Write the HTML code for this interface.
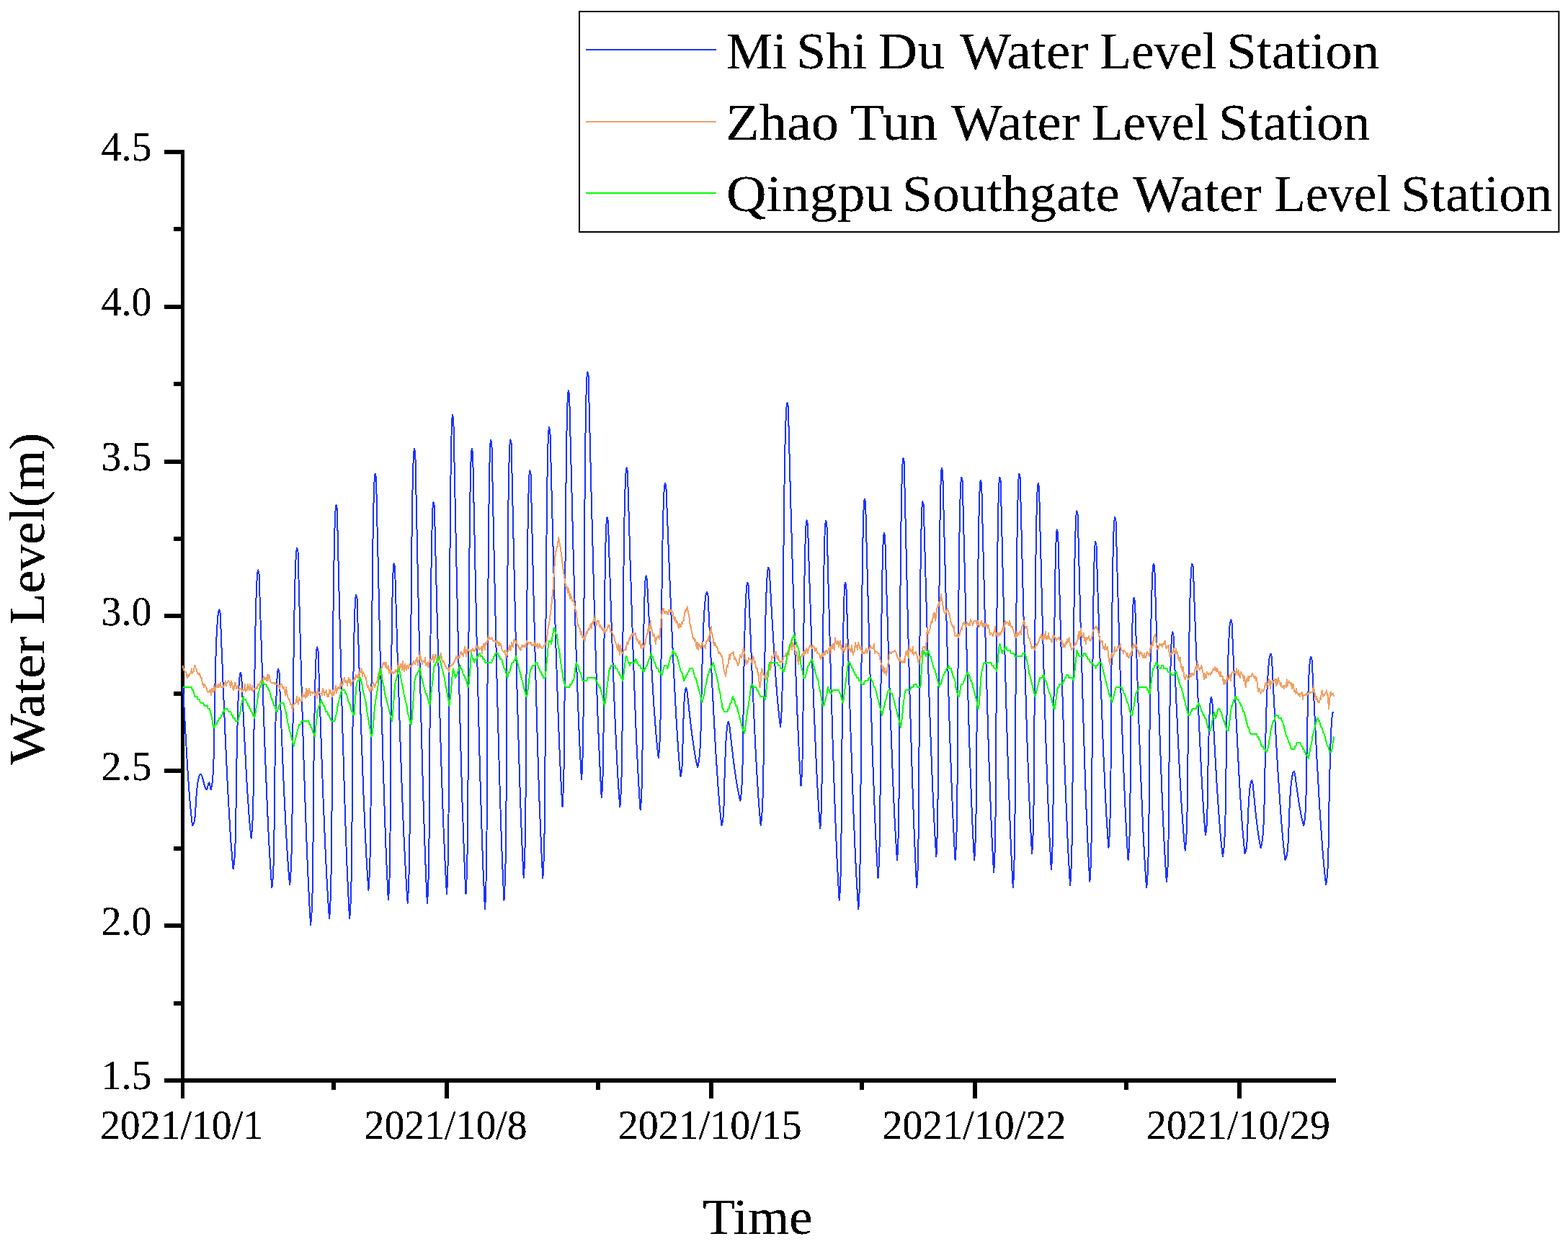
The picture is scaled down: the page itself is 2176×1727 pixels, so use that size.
<!DOCTYPE html>
<html lang="en"><head><meta charset="utf-8"><title>Water Level</title>
<style>html,body{margin:0;padding:0;background:#fff}svg{display:block}text{font-family:"Liberation Serif","DejaVu Serif",serif;fill:#000}</style></head><body>
<svg width="2176" height="1727" viewBox="0 0 2176 1727">
<defs><filter id="crisp" x="-5%" y="-5%" width="110%" height="110%" color-interpolation-filters="sRGB"><feComponentTransfer><feFuncA type="discrete" tableValues="0 0 1 1 1"/></feComponentTransfer></filter></defs>
<rect x="0" y="0" width="2176" height="1727" fill="#fff"/>
<g fill="#000" shape-rendering="crispEdges">
<rect x="251" y="208" width="5" height="1317"/>
<rect x="228" y="1497" width="1626" height="6"/>
<rect x="228" y="208" width="24" height="6"/>
<rect x="228" y="423" width="24" height="6"/>
<rect x="228" y="638" width="24" height="6"/>
<rect x="228" y="852" width="24" height="6"/>
<rect x="228" y="1067" width="24" height="6"/>
<rect x="228" y="1282" width="24" height="6"/>
<rect x="241" y="315" width="11" height="6"/>
<rect x="241" y="530" width="11" height="6"/>
<rect x="241" y="745" width="11" height="6"/>
<rect x="241" y="960" width="11" height="6"/>
<rect x="241" y="1175" width="11" height="6"/>
<rect x="241" y="1390" width="11" height="6"/>
<rect x="617" y="1500" width="6" height="25"/>
<rect x="984" y="1500" width="6" height="25"/>
<rect x="1350" y="1500" width="6" height="25"/>
<rect x="1717" y="1500" width="6" height="25"/>
<rect x="460" y="1500" width="6" height="13"/>
<rect x="827" y="1500" width="6" height="13"/>
<rect x="1193" y="1500" width="6" height="13"/>
<rect x="1560" y="1500" width="6" height="13"/>
</g>
<g fill="none" stroke-width="2" stroke-linejoin="round" stroke-linecap="butt" shape-rendering="crispEdges">
<path stroke="#1A33FF" d="M254.0,953.0 L254.5,962.5 L255.0,972.1 L255.5,981.5 L256.0,991.0 L256.5,1000.3 L257.0,1009.5 L257.5,1018.6 L258.0,1027.6 L258.5,1036.4 L259.0,1045.0 L259.5,1053.4 L260.0,1061.6 L260.5,1069.5 L261.0,1077.3 L261.5,1084.7 L262.0,1091.9 L262.5,1098.8 L263.0,1105.3 L263.5,1111.6 L264.0,1117.5 L264.5,1123.2 L265.0,1128.4 L265.5,1133.4 L266.0,1138.0 L266.5,1142.2 L267.0,1146.1 L267.5,1145.5 L268.0,1144.6 L268.6,1143.6 L269.1,1142.2 L269.6,1140.4 L270.1,1137.8 L270.6,1133.8 L271.1,1128.3 L271.7,1118.2 L272.2,1109.3 L272.7,1102.5 L273.2,1096.8 L273.7,1091.8 L274.3,1087.5 L274.8,1084.3 L275.3,1081.7 L275.8,1079.6 L276.3,1077.8 L276.8,1076.3 L277.4,1075.6 L277.9,1075.1 L278.4,1074.9 L278.9,1075.1 L279.4,1075.7 L279.9,1076.7 L280.4,1078.0 L281.0,1079.6 L281.5,1081.4 L282.0,1083.4 L282.5,1085.5 L283.0,1087.5 L283.5,1089.5 L284.0,1091.3 L284.6,1092.9 L285.1,1094.2 L285.6,1095.2 L286.1,1095.8 L286.6,1096.0 L287.1,1095.5 L287.7,1094.2 L288.2,1092.3 L288.7,1090.2 L289.2,1088.3 L289.8,1087.0 L290.3,1086.5 L290.8,1087.4 L291.3,1089.8 L291.9,1092.7 L292.4,1095.1 L292.9,1096.0 L293.4,1094.0 L293.9,1091.1 L294.4,1087.6 L294.9,1083.3 L295.4,1077.5 L295.9,1069.7 L296.4,1057.8 L296.9,1041.1 L297.4,1014.7 L297.9,978.8 L298.4,954.1 L298.9,933.3 L299.4,915.3 L299.9,899.4 L300.4,886.4 L300.9,876.4 L301.4,868.2 L301.9,861.5 L302.4,855.5 L302.9,851.0 L303.4,848.7 L303.9,847.1 L304.4,846.5 L305.7,851.5 L306.2,864.5 L306.7,877.5 L307.2,890.5 L307.7,903.5 L308.3,916.3 L308.8,929.1 L309.3,941.8 L309.8,954.4 L310.3,966.9 L310.8,979.2 L311.3,991.4 L311.8,1003.4 L312.3,1015.2 L312.9,1026.8 L313.4,1038.2 L313.9,1049.4 L314.4,1060.3 L314.9,1071.0 L315.4,1081.5 L315.9,1091.6 L316.4,1101.5 L317.0,1111.1 L317.5,1120.4 L318.0,1129.4 L318.5,1138.1 L319.0,1146.5 L319.5,1154.5 L320.0,1162.2 L320.5,1169.6 L321.0,1176.6 L321.6,1183.3 L322.1,1189.6 L322.6,1195.5 L323.1,1201.2 L323.6,1206.4 L324.1,1203.8 L324.6,1200.0 L325.1,1195.3 L325.7,1189.0 L326.2,1180.2 L326.7,1166.2 L327.2,1145.4 L327.7,1108.8 L328.2,1068.4 L328.8,1039.6 L329.3,1015.7 L329.8,995.0 L330.3,978.2 L330.8,965.7 L331.3,955.7 L331.8,947.7 L332.4,940.9 L332.9,937.1 L333.4,934.9 L333.9,934.0 L335.2,939.0 L335.7,950.1 L336.2,961.2 L336.7,972.2 L337.3,983.2 L337.8,994.1 L338.3,1004.8 L338.8,1015.4 L339.3,1025.8 L339.8,1036.1 L340.4,1046.1 L340.9,1055.9 L341.4,1065.4 L341.9,1074.7 L342.4,1083.7 L342.9,1092.3 L343.4,1100.7 L344.0,1108.7 L344.5,1116.3 L345.0,1123.6 L345.5,1130.6 L346.0,1137.1 L346.5,1143.2 L347.1,1149.0 L347.6,1154.3 L348.1,1159.3 L348.6,1163.8 L349.1,1160.0 L349.6,1154.4 L350.1,1147.4 L350.6,1137.8 L351.1,1123.8 L351.6,1100.9 L352.1,1067.4 L352.6,1002.5 L353.1,955.5 L353.7,917.9 L354.2,886.2 L354.7,859.5 L355.2,839.7 L355.7,824.4 L356.2,812.4 L356.7,802.0 L357.2,796.0 L357.7,792.8 L358.2,791.4 L359.5,796.4 L360.0,812.4 L360.5,828.4 L361.0,844.3 L361.5,860.2 L362.0,876.0 L362.6,891.7 L363.1,907.3 L363.6,922.7 L364.1,938.0 L364.6,953.1 L365.1,968.1 L365.6,982.8 L366.1,997.3 L366.6,1011.5 L367.1,1025.5 L367.6,1039.3 L368.1,1052.7 L368.7,1065.8 L369.2,1078.7 L369.7,1091.1 L370.2,1103.3 L370.7,1115.1 L371.2,1126.5 L371.7,1137.5 L372.2,1148.2 L372.7,1158.5 L373.2,1168.3 L373.7,1177.8 L374.2,1186.8 L374.8,1195.4 L375.3,1203.6 L375.8,1211.4 L376.3,1218.7 L376.8,1225.6 L377.3,1232.0 L377.8,1228.5 L378.3,1223.1 L378.9,1216.2 L379.4,1206.1 L379.9,1189.5 L380.4,1162.5 L381.0,1110.2 L381.5,1064.5 L382.0,1030.3 L382.5,1002.0 L383.1,979.1 L383.6,962.8 L384.1,950.4 L384.6,940.4 L385.2,933.5 L385.7,930.4 L386.2,929.0 L387.5,934.0 L388.0,947.0 L388.5,960.0 L389.0,973.0 L389.5,985.9 L390.0,998.7 L390.5,1011.4 L391.0,1024.0 L391.5,1036.3 L392.0,1048.6 L392.5,1060.6 L393.0,1072.3 L393.5,1083.9 L394.0,1095.2 L394.5,1106.2 L395.1,1116.9 L395.6,1127.3 L396.1,1137.3 L396.6,1147.1 L397.1,1156.4 L397.6,1165.4 L398.1,1174.0 L398.6,1182.2 L399.1,1190.1 L399.6,1197.5 L400.1,1204.5 L400.6,1211.0 L401.1,1217.2 L401.6,1222.9 L402.1,1228.2 L402.6,1223.8 L403.1,1217.2 L403.6,1209.1 L404.1,1198.3 L404.6,1183.2 L405.1,1159.3 L405.6,1123.6 L406.1,1060.8 L406.6,991.6 L407.1,942.2 L407.7,901.2 L408.2,865.7 L408.7,836.8 L409.2,815.4 L409.7,798.4 L410.2,784.6 L410.7,772.8 L411.2,766.4 L411.7,762.7 L412.2,761.1 L413.5,766.1 L414.0,785.1 L414.5,804.1 L415.0,823.0 L415.5,841.9 L416.0,860.7 L416.5,879.3 L417.0,897.8 L417.5,916.2 L418.0,934.4 L418.5,952.3 L419.0,970.1 L419.5,987.6 L420.0,1004.8 L420.5,1021.7 L421.0,1038.4 L421.5,1054.7 L422.0,1070.6 L422.6,1086.3 L423.1,1101.5 L423.6,1116.3 L424.1,1130.8 L424.6,1144.8 L425.1,1158.3 L425.6,1171.5 L426.1,1184.1 L426.6,1196.3 L427.1,1208.0 L427.6,1219.3 L428.1,1230.0 L428.6,1240.2 L429.1,1250.0 L429.6,1259.2 L430.1,1267.9 L430.6,1276.0 L431.1,1283.7 L431.6,1279.5 L432.1,1273.3 L432.6,1265.3 L433.1,1254.0 L433.6,1236.8 L434.1,1208.4 L434.6,1161.4 L435.1,1093.6 L435.6,1047.8 L436.2,1010.5 L436.7,978.8 L437.2,954.5 L437.7,936.5 L438.2,922.7 L438.7,911.0 L439.2,903.6 L439.7,900.0 L440.2,898.4 L441.5,903.4 L442.0,918.8 L442.5,934.2 L443.0,949.5 L443.5,964.8 L444.0,979.9 L444.5,995.0 L445.0,1009.9 L445.5,1024.6 L446.0,1039.1 L446.5,1053.5 L447.0,1067.6 L447.5,1081.4 L448.0,1095.0 L448.5,1108.3 L449.0,1121.3 L449.6,1133.9 L450.1,1146.2 L450.6,1158.1 L451.1,1169.7 L451.6,1180.9 L452.1,1191.6 L452.6,1202.0 L453.1,1211.9 L453.6,1221.4 L454.1,1230.4 L454.6,1239.0 L455.1,1247.1 L455.6,1254.8 L456.1,1262.0 L456.6,1268.7 L457.1,1274.9 L457.6,1268.7 L458.1,1259.4 L458.7,1247.5 L459.2,1230.7 L459.7,1205.0 L460.2,1162.7 L460.8,1092.8 L461.3,991.7 L461.8,923.5 L462.3,868.0 L462.8,820.8 L463.4,784.6 L463.9,757.8 L464.4,737.2 L464.9,719.7 L465.5,708.7 L466.0,703.3 L466.5,701.0 L467.8,706.0 L468.3,727.5 L468.8,749.0 L469.3,770.4 L469.8,791.7 L470.3,813.0 L470.9,834.0 L471.4,855.0 L471.9,875.7 L472.4,896.2 L472.9,916.5 L473.4,936.4 L473.9,956.1 L474.4,975.5 L474.9,994.5 L475.4,1013.2 L475.9,1031.5 L476.5,1049.4 L477.0,1066.8 L477.5,1083.8 L478.0,1100.3 L478.5,1116.4 L479.0,1131.9 L479.5,1146.9 L480.0,1161.4 L480.5,1175.4 L481.0,1188.8 L481.5,1201.6 L482.0,1213.8 L482.6,1225.5 L483.1,1236.6 L483.6,1247.1 L484.1,1257.0 L484.6,1266.2 L485.1,1274.9 L485.6,1270.0 L486.1,1262.7 L486.6,1253.5 L487.1,1240.3 L487.6,1220.2 L488.1,1187.0 L488.6,1132.3 L489.1,1053.2 L489.6,999.7 L490.2,956.3 L490.7,919.3 L491.2,891.0 L491.7,870.0 L492.2,853.8 L492.7,840.2 L493.2,831.5 L493.7,827.3 L494.2,825.5 L495.5,830.5 L496.0,847.3 L496.5,864.1 L497.0,880.8 L497.6,897.4 L498.1,914.0 L498.6,930.4 L499.1,946.6 L499.6,962.7 L500.1,978.5 L500.6,994.2 L501.1,1009.6 L501.7,1024.7 L502.2,1039.5 L502.7,1054.0 L503.2,1068.1 L503.7,1081.9 L504.2,1095.3 L504.7,1108.3 L505.2,1121.0 L505.8,1133.1 L506.3,1144.9 L506.8,1156.2 L507.3,1167.0 L507.8,1177.3 L508.3,1187.2 L508.8,1196.6 L509.3,1205.4 L509.9,1213.8 L510.4,1221.6 L510.9,1228.9 L511.4,1235.7 L511.9,1229.5 L512.4,1220.0 L513.0,1208.1 L513.5,1191.2 L514.0,1165.3 L514.5,1122.7 L515.0,1052.2 L515.5,950.5 L516.0,881.7 L516.6,825.9 L517.1,778.3 L517.6,741.8 L518.1,714.8 L518.6,694.1 L519.2,676.5 L519.7,665.4 L520.2,659.9 L520.7,657.6 L522.0,662.6 L522.5,685.5 L523.0,708.3 L523.5,731.1 L524.0,753.7 L524.6,776.3 L525.1,798.7 L525.6,820.9 L526.1,842.8 L526.6,864.6 L527.1,886.0 L527.6,907.2 L528.1,928.0 L528.7,948.5 L529.2,968.5 L529.7,988.2 L530.2,1007.4 L530.7,1026.2 L531.2,1044.5 L531.7,1062.3 L532.2,1079.6 L532.8,1096.3 L533.3,1112.4 L533.8,1128.0 L534.3,1143.0 L534.8,1157.4 L535.3,1171.2 L535.8,1184.3 L536.3,1196.9 L536.9,1208.7 L537.4,1219.9 L537.9,1230.5 L538.4,1240.4 L538.9,1249.6 L539.4,1243.2 L539.9,1233.4 L540.5,1219.7 L541.0,1197.9 L541.5,1158.2 L542.0,1082.1 L542.5,995.2 L543.1,935.3 L543.6,886.8 L544.1,850.2 L544.6,824.6 L545.1,805.6 L545.7,791.0 L546.2,784.7 L546.7,782.1 L548.0,787.1 L548.5,804.2 L549.0,821.4 L549.5,838.4 L550.0,855.4 L550.5,872.4 L551.0,889.2 L551.5,905.9 L552.0,922.5 L552.6,938.8 L553.1,955.1 L553.6,971.1 L554.1,986.8 L554.6,1002.4 L555.1,1017.6 L555.6,1032.7 L556.1,1047.4 L556.6,1061.8 L557.1,1075.8 L557.6,1089.6 L558.1,1103.0 L558.6,1116.0 L559.1,1128.6 L559.6,1140.8 L560.1,1152.7 L560.6,1164.1 L561.1,1175.1 L561.7,1185.7 L562.2,1195.8 L562.7,1205.5 L563.2,1214.7 L563.7,1223.5 L564.2,1231.8 L564.7,1239.6 L565.2,1247.0 L565.7,1253.9 L566.2,1247.1 L566.7,1236.8 L567.2,1223.8 L567.8,1205.3 L568.3,1177.1 L568.8,1130.6 L569.3,1053.7 L569.8,942.6 L570.4,867.6 L570.9,806.6 L571.4,754.7 L571.9,714.9 L572.4,685.4 L572.9,662.8 L573.5,643.6 L574.0,631.5 L574.5,625.6 L575.0,623.0 L576.3,628.0 L576.8,652.4 L577.3,676.7 L577.8,701.0 L578.3,725.2 L578.8,749.2 L579.3,773.1 L579.8,796.7 L580.3,820.2 L580.8,843.4 L581.3,866.2 L581.8,888.8 L582.3,911.0 L582.8,932.8 L583.3,954.2 L583.8,975.2 L584.3,995.7 L584.9,1015.7 L585.4,1035.2 L585.9,1054.2 L586.4,1072.6 L586.9,1090.4 L587.4,1107.7 L587.9,1124.3 L588.4,1140.3 L588.9,1155.6 L589.4,1170.3 L589.9,1184.3 L590.4,1197.7 L590.9,1210.3 L591.4,1222.3 L591.9,1233.5 L592.4,1244.1 L592.9,1253.9 L593.4,1247.4 L593.9,1237.6 L594.4,1224.9 L594.9,1206.2 L595.4,1175.8 L595.9,1126.2 L596.4,1029.9 L596.9,946.0 L597.5,883.1 L598.0,830.9 L598.5,788.9 L599.0,758.9 L599.5,736.2 L600.0,717.7 L600.5,705.0 L601.0,699.3 L601.5,696.8 L602.8,701.8 L603.3,722.2 L603.8,742.6 L604.3,762.9 L604.8,783.1 L605.3,803.2 L605.8,823.2 L606.3,843.1 L606.8,862.7 L607.4,882.2 L607.9,901.4 L608.4,920.3 L608.9,939.0 L609.4,957.4 L609.9,975.4 L610.4,993.1 L610.9,1010.5 L611.4,1027.4 L611.9,1044.0 L612.4,1060.1 L612.9,1075.7 L613.4,1091.0 L613.9,1105.7 L614.4,1119.9 L614.9,1133.7 L615.4,1146.9 L616.0,1159.6 L616.5,1171.8 L617.0,1183.4 L617.5,1194.5 L618.0,1205.0 L618.5,1214.9 L619.0,1224.3 L619.5,1233.1 L620.0,1241.3 L620.5,1232.9 L621.0,1220.2 L621.5,1203.1 L622.0,1177.3 L622.5,1132.2 L623.0,1059.1 L623.5,924.4 L624.0,834.1 L624.5,762.5 L625.0,703.2 L625.5,660.6 L626.0,629.4 L626.5,605.1 L627.0,587.3 L627.5,579.6 L628.0,576.3 L629.3,581.3 L629.8,606.2 L630.3,631.2 L630.8,656.0 L631.3,680.8 L631.8,705.4 L632.3,729.8 L632.8,754.1 L633.3,778.2 L633.9,801.9 L634.4,825.5 L634.9,848.6 L635.4,871.5 L635.9,894.0 L636.4,916.1 L636.9,937.7 L637.4,958.9 L637.9,979.6 L638.4,999.9 L638.9,1019.6 L639.4,1038.8 L639.9,1057.4 L640.4,1075.4 L640.9,1092.8 L641.4,1109.6 L641.9,1125.8 L642.5,1141.4 L643.0,1156.3 L643.5,1170.5 L644.0,1184.0 L644.5,1196.9 L645.0,1209.0 L645.5,1220.5 L646.0,1231.2 L646.5,1241.3 L647.0,1233.5 L647.5,1221.7 L648.1,1205.8 L648.6,1181.8 L649.1,1139.8 L649.6,1071.9 L650.1,946.7 L650.6,862.7 L651.2,796.1 L651.7,741.0 L652.2,701.4 L652.7,672.3 L653.2,649.8 L653.8,633.2 L654.3,626.1 L654.8,623.0 L656.1,628.0 L656.6,652.7 L657.1,677.4 L657.6,702.0 L658.1,726.4 L658.7,750.8 L659.2,775.0 L659.7,799.0 L660.2,822.7 L660.7,846.2 L661.2,869.4 L661.7,892.2 L662.2,914.7 L662.8,936.9 L663.3,958.5 L663.8,979.8 L664.3,1000.6 L664.8,1020.9 L665.3,1040.6 L665.8,1059.8 L666.3,1078.5 L666.9,1096.6 L667.4,1114.0 L667.9,1130.9 L668.4,1147.1 L668.9,1162.6 L669.4,1177.5 L669.9,1191.7 L670.4,1205.2 L671.0,1218.0 L671.5,1230.1 L672.0,1241.5 L672.5,1252.2 L673.0,1262.2 L673.5,1254.0 L674.0,1241.6 L674.5,1224.8 L675.0,1199.4 L675.5,1155.2 L676.0,1083.7 L676.5,951.6 L677.0,863.1 L677.6,792.9 L678.1,734.8 L678.6,693.0 L679.1,662.4 L679.6,638.7 L680.1,621.2 L680.6,613.7 L681.1,610.4 L682.4,615.4 L682.9,639.4 L683.4,663.3 L683.9,687.2 L684.4,711.0 L684.9,734.6 L685.4,758.1 L685.9,781.5 L686.4,804.6 L686.9,827.4 L687.4,850.0 L687.9,872.3 L688.4,894.2 L688.9,915.8 L689.4,937.1 L689.9,957.9 L690.4,978.3 L691.0,998.2 L691.5,1017.6 L692.0,1036.6 L692.5,1055.0 L693.0,1072.9 L693.5,1090.2 L694.0,1106.9 L694.5,1123.1 L695.0,1138.6 L695.5,1153.6 L696.0,1167.9 L696.5,1181.5 L697.0,1194.5 L697.5,1206.9 L698.0,1218.6 L698.5,1229.6 L699.0,1239.9 L699.5,1249.6 L700.0,1242.2 L700.5,1230.9 L701.1,1216.3 L701.6,1194.9 L702.1,1160.0 L702.6,1103.1 L703.1,992.6 L703.6,896.3 L704.2,824.1 L704.7,764.3 L705.2,716.0 L705.7,681.7 L706.2,655.6 L706.7,634.4 L707.3,619.8 L707.8,613.3 L708.3,610.4 L709.6,615.4 L710.1,638.2 L710.6,661.0 L711.1,683.7 L711.6,706.3 L712.1,728.8 L712.6,751.2 L713.1,773.3 L713.6,795.3 L714.1,817.1 L714.6,838.5 L715.1,859.7 L715.6,880.6 L716.1,901.2 L716.6,921.3 L717.1,941.1 L717.6,960.5 L718.1,979.5 L718.7,998.0 L719.2,1016.0 L719.7,1033.5 L720.2,1050.5 L720.7,1067.0 L721.2,1082.9 L721.7,1098.3 L722.2,1113.1 L722.7,1127.3 L723.2,1140.9 L723.7,1153.9 L724.2,1166.2 L724.7,1178.0 L725.2,1189.1 L725.7,1199.6 L726.2,1209.4 L726.7,1218.6 L727.2,1212.0 L727.7,1202.1 L728.2,1189.1 L728.7,1170.2 L729.2,1139.3 L729.7,1089.0 L730.2,991.3 L730.7,906.2 L731.3,842.3 L731.8,789.4 L732.3,746.7 L732.8,716.3 L733.3,693.3 L733.8,674.5 L734.3,661.6 L734.8,655.8 L735.3,653.3 L736.6,658.3 L737.1,680.1 L737.6,702.0 L738.1,723.7 L738.6,745.4 L739.1,766.9 L739.6,788.3 L740.1,809.5 L740.6,830.6 L741.2,851.3 L741.7,871.8 L742.2,892.0 L742.7,911.9 L743.2,931.5 L743.7,950.7 L744.2,969.5 L744.7,987.9 L745.2,1005.8 L745.7,1023.3 L746.2,1040.3 L746.7,1056.8 L747.2,1072.8 L747.7,1088.2 L748.2,1103.1 L748.7,1117.5 L749.3,1131.2 L749.8,1144.4 L750.3,1156.9 L750.8,1168.9 L751.3,1180.2 L751.8,1190.9 L752.3,1201.0 L752.8,1210.5 L753.3,1219.3 L753.8,1212.0 L754.3,1201.0 L754.9,1186.7 L755.4,1165.7 L755.9,1131.5 L756.4,1075.8 L756.9,967.5 L757.4,873.3 L758.0,802.5 L758.5,744.0 L759.0,696.7 L759.5,663.0 L760.0,637.5 L760.5,616.7 L761.1,602.4 L761.6,596.0 L762.1,593.2 L763.4,598.2 L763.9,617.9 L764.4,637.6 L764.9,657.3 L765.4,676.8 L765.9,696.3 L766.4,715.7 L766.9,734.9 L767.4,753.9 L767.9,772.7 L768.4,791.3 L768.9,809.6 L769.4,827.7 L769.9,845.4 L770.4,862.9 L770.9,880.0 L771.4,896.8 L772.0,913.2 L772.5,929.2 L773.0,944.8 L773.5,959.9 L774.0,974.7 L774.5,988.9 L775.0,1002.7 L775.5,1016.0 L776.0,1028.8 L776.5,1041.1 L777.0,1052.8 L777.5,1064.1 L778.0,1074.8 L778.5,1085.0 L779.0,1094.6 L779.5,1103.6 L780.0,1112.1 L780.5,1120.1 L781.0,1112.8 L781.5,1101.8 L782.1,1086.9 L782.6,1064.5 L783.1,1025.3 L783.6,961.8 L784.1,844.8 L784.6,766.3 L785.2,704.1 L785.7,652.5 L786.2,615.6 L786.7,588.4 L787.2,567.3 L787.8,551.9 L788.3,545.2 L788.8,542.3 L790.1,547.3 L790.6,568.1 L791.1,588.9 L791.6,609.7 L792.1,630.3 L792.7,650.9 L793.2,671.3 L793.7,691.5 L794.2,711.5 L794.7,731.3 L795.2,750.9 L795.7,770.2 L796.2,789.1 L796.8,807.8 L797.3,826.1 L797.8,844.0 L798.3,861.5 L798.8,878.6 L799.3,895.3 L799.8,911.5 L800.3,927.2 L800.9,942.5 L801.4,957.2 L801.9,971.4 L802.4,985.1 L802.9,998.2 L803.4,1010.8 L803.9,1022.7 L804.4,1034.1 L805.0,1044.9 L805.5,1055.2 L806.0,1064.8 L806.5,1073.8 L807.0,1082.2 L807.5,1075.1 L808.0,1064.3 L808.6,1049.7 L809.1,1027.7 L809.6,989.3 L810.1,927.2 L810.6,812.5 L811.1,735.6 L811.7,674.7 L812.2,624.2 L812.7,588.0 L813.2,561.4 L813.7,540.7 L814.3,525.6 L814.8,519.0 L815.3,516.2 L816.6,521.2 L817.1,542.1 L817.6,563.0 L818.1,583.9 L818.6,604.7 L819.1,625.4 L819.6,645.9 L820.1,666.4 L820.6,686.6 L821.1,706.7 L821.7,726.5 L822.2,746.1 L822.7,765.5 L823.2,784.6 L823.7,803.3 L824.2,821.8 L824.7,839.9 L825.2,857.7 L825.7,875.1 L826.2,892.1 L826.7,908.6 L827.2,924.8 L827.7,940.5 L828.2,955.7 L828.7,970.5 L829.2,984.8 L829.7,998.6 L830.2,1011.9 L830.8,1024.7 L831.3,1036.9 L831.8,1048.7 L832.3,1059.8 L832.8,1070.5 L833.3,1080.6 L833.8,1090.1 L834.3,1099.1 L834.8,1107.5 L835.3,1102.2 L835.8,1094.0 L836.4,1082.6 L836.9,1064.4 L837.4,1031.4 L837.9,968.0 L838.4,895.6 L839.0,845.8 L839.5,805.4 L840.0,774.9 L840.5,753.6 L841.0,737.8 L841.6,725.6 L842.1,720.4 L842.6,718.2 L843.9,723.2 L844.4,739.1 L844.9,755.1 L845.4,770.9 L845.9,786.7 L846.5,802.4 L847.0,818.0 L847.5,833.5 L848.0,848.8 L848.5,863.9 L849.0,878.8 L849.5,893.4 L850.0,907.9 L850.6,922.0 L851.1,935.9 L851.6,949.5 L852.1,962.8 L852.6,975.7 L853.1,988.2 L853.6,1000.4 L854.1,1012.2 L854.7,1023.6 L855.2,1034.7 L855.7,1045.2 L856.2,1055.4 L856.7,1065.1 L857.2,1074.3 L857.7,1083.1 L858.2,1091.5 L858.8,1099.3 L859.3,1106.7 L859.8,1113.7 L860.3,1120.1 L860.8,1115.0 L861.3,1107.4 L861.8,1097.7 L862.4,1083.9 L862.9,1062.8 L863.4,1028.1 L863.9,970.7 L864.4,887.9 L865.0,832.0 L865.5,786.5 L866.0,747.7 L866.5,718.0 L867.0,696.1 L867.5,679.2 L868.0,664.8 L868.6,655.8 L869.1,651.4 L869.6,649.5 L870.9,654.5 L871.4,671.8 L871.9,689.0 L872.4,706.2 L872.9,723.3 L873.4,740.3 L873.9,757.3 L874.4,774.1 L874.9,790.8 L875.5,807.3 L876.0,823.6 L876.5,839.7 L877.0,855.6 L877.5,871.2 L878.0,886.6 L878.5,901.7 L879.0,916.5 L879.5,931.0 L880.0,945.2 L880.5,959.0 L881.0,972.4 L881.5,985.5 L882.0,998.3 L882.5,1010.6 L883.0,1022.5 L883.5,1034.0 L884.0,1045.1 L884.6,1055.7 L885.1,1065.9 L885.6,1075.7 L886.1,1084.9 L886.6,1093.8 L887.1,1102.1 L887.6,1110.0 L888.1,1117.5 L888.6,1124.4 L889.1,1120.3 L889.6,1114.1 L890.1,1105.7 L890.6,1093.1 L891.1,1071.1 L891.6,1035.4 L892.1,969.6 L892.6,925.5 L893.1,890.5 L893.6,861.5 L894.1,840.7 L894.6,825.4 L895.1,813.6 L895.6,804.9 L896.1,801.1 L896.6,799.5 L897.9,804.5 L898.4,814.8 L898.9,825.0 L899.4,835.2 L900.0,845.4 L900.5,855.5 L901.0,865.5 L901.5,875.4 L902.0,885.2 L902.5,894.9 L903.0,904.4 L903.5,913.8 L904.1,923.0 L904.6,932.1 L905.1,940.9 L905.6,949.6 L906.1,958.0 L906.6,966.2 L907.1,974.1 L907.6,981.8 L908.2,989.3 L908.7,996.5 L909.2,1003.3 L909.7,1010.0 L910.2,1016.3 L910.7,1022.3 L911.2,1028.0 L911.7,1033.4 L912.3,1038.5 L912.8,1043.3 L913.3,1047.8 L913.8,1051.9 L914.3,1047.8 L914.8,1041.6 L915.3,1033.7 L915.9,1022.6 L916.4,1005.5 L916.9,977.4 L917.4,931.0 L917.9,863.9 L918.5,818.6 L919.0,781.7 L919.5,750.3 L920.0,726.3 L920.5,708.5 L921.0,694.8 L921.5,683.2 L922.1,675.9 L922.6,672.3 L923.1,670.8 L924.4,675.8 L924.9,688.7 L925.4,701.6 L925.9,714.5 L926.4,727.4 L926.9,740.2 L927.4,752.9 L927.9,765.6 L928.4,778.1 L928.9,790.6 L929.4,803.0 L929.9,815.3 L930.4,827.4 L930.9,839.4 L931.4,851.2 L931.9,862.9 L932.4,874.4 L932.9,885.7 L933.4,896.8 L933.9,907.8 L934.4,918.5 L934.9,929.0 L935.4,939.3 L935.9,949.3 L936.4,959.1 L936.9,968.6 L937.4,977.9 L937.9,986.9 L938.4,995.7 L938.9,1004.1 L939.4,1012.3 L939.9,1020.2 L940.4,1027.8 L940.9,1035.2 L941.4,1042.2 L941.9,1048.9 L942.4,1055.3 L942.9,1061.4 L943.4,1067.2 L943.9,1072.7 L944.4,1077.9 L944.9,1076.2 L945.4,1073.6 L946.0,1070.0 L946.5,1064.3 L947.0,1053.8 L947.5,1033.7 L948.0,1010.9 L948.6,995.1 L949.1,982.3 L949.6,972.6 L950.1,965.9 L950.6,960.9 L951.2,957.0 L951.7,955.4 L952.2,954.7 L953.5,959.7 L954.0,964.4 L954.5,969.0 L955.0,973.7 L955.5,978.3 L956.0,982.9 L956.5,987.4 L957.0,991.9 L957.5,996.4 L958.0,1000.7 L958.5,1005.0 L959.0,1009.3 L959.5,1013.4 L960.0,1017.4 L960.5,1021.4 L961.1,1025.2 L961.6,1028.9 L962.1,1032.5 L962.6,1036.0 L963.1,1039.4 L963.6,1042.6 L964.1,1045.7 L964.6,1048.6 L965.1,1051.4 L965.6,1054.1 L966.1,1056.6 L966.6,1059.0 L967.1,1061.2 L967.6,1063.2 L968.1,1065.1 L968.6,1063.5 L969.1,1061.1 L969.6,1058.2 L970.1,1054.8 L970.6,1050.5 L971.1,1045.0 L971.6,1037.6 L972.1,1026.8 L972.6,1012.3 L973.1,991.4 L973.6,958.2 L974.1,935.4 L974.7,916.1 L975.2,899.3 L975.7,884.4 L976.2,871.1 L976.7,860.2 L977.2,851.6 L977.7,844.3 L978.2,838.3 L978.7,832.9 L979.2,828.2 L979.7,825.2 L980.2,823.5 L980.7,822.2 L981.2,821.7 L982.5,826.7 L983.0,837.8 L983.5,848.9 L984.0,859.9 L984.5,871.0 L985.1,881.9 L985.6,892.8 L986.1,903.7 L986.6,914.4 L987.1,925.1 L987.6,935.6 L988.1,946.1 L988.6,956.4 L989.1,966.5 L989.7,976.6 L990.2,986.4 L990.7,996.1 L991.2,1005.6 L991.7,1014.9 L992.2,1024.0 L992.7,1032.9 L993.2,1041.6 L993.7,1050.1 L994.2,1058.3 L994.8,1066.3 L995.3,1074.0 L995.8,1081.5 L996.3,1088.8 L996.8,1095.7 L997.3,1102.4 L997.8,1108.9 L998.3,1115.0 L998.8,1120.9 L999.4,1126.5 L999.9,1131.9 L1000.4,1136.9 L1000.9,1141.6 L1001.4,1146.1 L1001.9,1144.6 L1002.4,1142.5 L1002.9,1139.8 L1003.4,1136.0 L1003.9,1130.6 L1004.4,1121.8 L1004.9,1108.9 L1005.4,1083.8 L1005.9,1065.6 L1006.5,1051.1 L1007.0,1038.8 L1007.5,1028.5 L1008.0,1020.9 L1008.5,1014.9 L1009.0,1010.3 L1009.5,1006.3 L1010.0,1004.0 L1010.5,1002.7 L1011.0,1002.2 L1012.3,1007.2 L1012.8,1011.7 L1013.3,1016.2 L1013.8,1020.6 L1014.3,1025.0 L1014.8,1029.5 L1015.3,1033.8 L1015.8,1038.1 L1016.3,1042.4 L1016.8,1046.6 L1017.3,1050.8 L1017.8,1054.9 L1018.3,1058.9 L1018.8,1062.8 L1019.3,1066.6 L1019.9,1070.3 L1020.4,1074.0 L1020.9,1077.5 L1021.4,1080.9 L1021.9,1084.2 L1022.4,1087.4 L1022.9,1090.4 L1023.4,1093.3 L1023.9,1096.1 L1024.4,1098.8 L1024.9,1101.3 L1025.4,1103.7 L1025.9,1105.9 L1026.4,1108.0 L1026.9,1110.0 L1027.4,1111.8 L1027.9,1108.9 L1028.4,1104.7 L1028.9,1099.4 L1029.4,1092.4 L1029.9,1082.6 L1030.4,1067.1 L1030.9,1043.9 L1031.4,1003.1 L1031.9,958.2 L1032.5,926.2 L1033.0,899.6 L1033.5,876.5 L1034.0,857.8 L1034.5,843.9 L1035.0,832.8 L1035.5,823.8 L1036.0,816.2 L1036.5,812.0 L1037.0,809.6 L1037.5,808.6 L1038.8,813.6 L1039.3,826.5 L1039.8,839.5 L1040.3,852.4 L1040.8,865.2 L1041.4,877.9 L1041.9,890.6 L1042.4,903.2 L1042.9,915.6 L1043.4,927.9 L1043.9,940.1 L1044.4,952.1 L1044.9,963.8 L1045.5,975.4 L1046.0,986.8 L1046.5,997.9 L1047.0,1008.8 L1047.5,1019.4 L1048.0,1029.8 L1048.5,1039.9 L1049.0,1049.6 L1049.6,1059.1 L1050.1,1068.3 L1050.6,1077.1 L1051.1,1085.6 L1051.6,1093.7 L1052.1,1101.5 L1052.6,1109.0 L1053.1,1116.0 L1053.7,1122.8 L1054.2,1129.1 L1054.7,1135.1 L1055.2,1140.7 L1055.7,1145.9 L1056.2,1142.7 L1056.7,1138.0 L1057.2,1132.3 L1057.8,1124.8 L1058.3,1114.5 L1058.8,1099.2 L1059.3,1075.9 L1059.8,1041.7 L1060.3,983.2 L1060.8,943.6 L1061.4,910.9 L1061.9,882.9 L1062.4,858.7 L1062.9,839.8 L1063.4,825.2 L1063.9,813.5 L1064.4,803.7 L1065.0,795.6 L1065.5,791.3 L1066.0,788.7 L1066.5,787.6 L1067.8,792.6 L1068.3,801.9 L1068.8,811.1 L1069.3,820.3 L1069.8,829.5 L1070.3,838.6 L1070.8,847.7 L1071.3,856.6 L1071.9,865.5 L1072.4,874.2 L1072.9,882.8 L1073.4,891.2 L1073.9,899.5 L1074.4,907.6 L1074.9,915.5 L1075.4,923.2 L1075.9,930.7 L1076.4,938.0 L1076.9,945.1 L1077.4,951.9 L1077.9,958.4 L1078.4,964.7 L1078.9,970.8 L1079.5,976.6 L1080.0,982.1 L1080.5,987.3 L1081.0,992.2 L1081.5,996.8 L1082.0,1001.2 L1082.5,1005.2 L1083.0,1009.0 L1083.5,1004.5 L1084.0,997.7 L1084.5,989.2 L1085.0,977.6 L1085.5,960.7 L1086.0,933.1 L1086.5,892.6 L1087.0,814.2 L1087.5,757.4 L1088.0,712.0 L1088.5,673.7 L1089.0,641.4 L1089.5,617.5 L1090.0,599.0 L1090.5,584.5 L1091.0,572.0 L1091.5,564.7 L1092.0,560.8 L1092.5,559.2 L1093.8,564.2 L1094.3,583.5 L1094.8,602.9 L1095.3,622.1 L1095.8,641.3 L1096.3,660.5 L1096.8,679.5 L1097.3,698.3 L1097.8,717.0 L1098.4,735.5 L1098.9,753.8 L1099.4,771.8 L1099.9,789.6 L1100.4,807.2 L1100.9,824.4 L1101.4,841.4 L1101.9,858.0 L1102.4,874.2 L1102.9,890.1 L1103.4,905.6 L1103.9,920.7 L1104.4,935.4 L1104.9,949.7 L1105.4,963.5 L1105.9,976.8 L1106.4,989.7 L1106.9,1002.2 L1107.5,1014.1 L1108.0,1025.5 L1108.5,1036.4 L1109.0,1046.9 L1109.5,1056.8 L1110.0,1066.1 L1110.5,1075.0 L1111.0,1083.3 L1111.5,1091.1 L1112.0,1086.5 L1112.5,1079.4 L1113.0,1069.9 L1113.5,1055.6 L1114.0,1030.6 L1114.5,990.1 L1115.0,915.5 L1115.5,865.4 L1116.1,825.7 L1116.6,792.8 L1117.1,769.2 L1117.6,751.9 L1118.1,738.5 L1118.6,728.6 L1119.1,724.3 L1119.6,722.5 L1120.9,727.5 L1121.4,743.5 L1121.9,759.4 L1122.4,775.4 L1122.9,791.2 L1123.4,807.0 L1124.0,822.7 L1124.5,838.2 L1125.0,853.6 L1125.5,868.9 L1126.0,883.9 L1126.5,898.8 L1127.0,913.4 L1127.5,927.8 L1128.0,942.0 L1128.5,955.9 L1129.0,969.5 L1129.5,982.7 L1130.1,995.7 L1130.6,1008.3 L1131.1,1020.6 L1131.6,1032.5 L1132.1,1044.1 L1132.6,1055.3 L1133.1,1066.0 L1133.6,1076.4 L1134.1,1086.4 L1134.6,1095.9 L1135.1,1105.0 L1135.7,1113.7 L1136.2,1121.9 L1136.7,1129.7 L1137.2,1137.1 L1137.7,1144.0 L1138.2,1150.4 L1138.7,1144.5 L1139.3,1135.6 L1139.8,1123.0 L1140.3,1103.0 L1140.8,1066.8 L1141.4,997.0 L1141.9,917.5 L1142.4,862.7 L1142.9,818.3 L1143.5,784.8 L1144.0,761.4 L1144.5,744.0 L1145.0,730.6 L1145.6,724.9 L1146.1,722.5 L1147.4,727.5 L1147.9,747.2 L1148.4,766.9 L1148.9,786.6 L1149.4,806.2 L1149.9,825.7 L1150.5,845.0 L1151.0,864.2 L1151.5,883.2 L1152.0,902.0 L1152.5,920.6 L1153.0,939.0 L1153.5,957.1 L1154.0,974.8 L1154.5,992.3 L1155.0,1009.4 L1155.5,1026.2 L1156.0,1042.6 L1156.6,1058.6 L1157.1,1074.2 L1157.6,1089.4 L1158.1,1104.1 L1158.6,1118.4 L1159.1,1132.2 L1159.6,1145.5 L1160.1,1158.3 L1160.6,1170.5 L1161.1,1182.3 L1161.6,1193.6 L1162.2,1204.3 L1162.7,1214.4 L1163.2,1224.1 L1163.7,1233.1 L1164.2,1241.6 L1164.7,1249.6 L1165.2,1244.0 L1165.8,1235.6 L1166.3,1224.3 L1166.8,1207.1 L1167.3,1177.2 L1167.8,1128.8 L1168.4,1039.5 L1168.9,979.6 L1169.4,932.1 L1170.0,892.7 L1170.5,864.5 L1171.0,843.8 L1171.5,827.7 L1172.0,815.9 L1172.6,810.8 L1173.1,808.6 L1174.4,813.6 L1174.9,831.1 L1175.4,848.5 L1175.9,865.9 L1176.4,883.2 L1177.0,900.5 L1177.5,917.6 L1178.0,934.5 L1178.5,951.3 L1179.0,968.0 L1179.5,984.3 L1180.0,1000.5 L1180.5,1016.4 L1181.1,1032.1 L1181.6,1047.4 L1182.1,1062.4 L1182.6,1077.1 L1183.1,1091.5 L1183.6,1105.5 L1184.1,1119.1 L1184.6,1132.2 L1185.2,1145.0 L1185.7,1157.4 L1186.2,1169.3 L1186.7,1180.8 L1187.2,1191.8 L1187.7,1202.3 L1188.2,1212.3 L1188.7,1221.9 L1189.3,1231.0 L1189.8,1239.5 L1190.3,1247.6 L1190.8,1255.1 L1191.3,1262.2 L1191.8,1255.6 L1192.3,1245.6 L1192.8,1232.5 L1193.3,1213.5 L1193.8,1182.3 L1194.3,1131.6 L1194.8,1033.1 L1195.3,947.3 L1195.8,883.0 L1196.3,829.7 L1196.8,786.6 L1197.3,756.0 L1197.8,732.8 L1198.3,713.9 L1198.8,700.9 L1199.3,695.1 L1199.8,692.5 L1201.1,697.5 L1201.6,717.2 L1202.1,736.9 L1202.6,756.5 L1203.1,776.1 L1203.7,795.6 L1204.2,814.9 L1204.7,834.1 L1205.2,853.1 L1205.7,871.9 L1206.2,890.5 L1206.7,908.8 L1207.2,926.8 L1207.8,944.6 L1208.3,962.1 L1208.8,979.2 L1209.3,995.9 L1209.8,1012.3 L1210.3,1028.3 L1210.8,1043.9 L1211.3,1059.0 L1211.8,1073.7 L1212.4,1088.0 L1212.9,1101.8 L1213.4,1115.1 L1213.9,1127.8 L1214.4,1140.1 L1214.9,1151.9 L1215.4,1163.1 L1215.9,1173.8 L1216.5,1184.0 L1217.0,1193.6 L1217.5,1202.6 L1218.0,1211.2 L1218.5,1219.1 L1219.0,1213.1 L1219.5,1203.9 L1220.1,1191.6 L1220.6,1173.0 L1221.1,1140.5 L1221.7,1087.9 L1222.2,990.9 L1222.7,925.9 L1223.2,874.3 L1223.8,831.6 L1224.3,800.9 L1224.8,778.4 L1225.3,761.0 L1225.9,748.1 L1226.4,742.6 L1226.9,740.2 L1228.2,745.2 L1228.7,762.7 L1229.2,780.1 L1229.7,797.5 L1230.2,814.9 L1230.7,832.1 L1231.3,849.2 L1231.8,866.2 L1232.3,883.0 L1232.8,899.7 L1233.3,916.1 L1233.8,932.2 L1234.3,948.2 L1234.8,963.8 L1235.3,979.2 L1235.8,994.2 L1236.3,1008.9 L1236.9,1023.3 L1237.4,1037.3 L1237.9,1050.9 L1238.4,1064.1 L1238.9,1076.9 L1239.4,1089.2 L1239.9,1101.1 L1240.4,1112.6 L1240.9,1123.6 L1241.4,1134.1 L1241.9,1144.2 L1242.5,1153.8 L1243.0,1162.8 L1243.5,1171.4 L1244.0,1179.5 L1244.5,1187.0 L1245.0,1194.1 L1245.5,1187.1 L1246.0,1176.4 L1246.6,1162.1 L1247.1,1140.4 L1247.6,1102.5 L1248.2,1041.3 L1248.7,928.3 L1249.2,852.5 L1249.7,792.4 L1250.2,742.6 L1250.8,706.9 L1251.3,680.7 L1251.8,660.4 L1252.4,645.4 L1252.9,639.0 L1253.4,636.2 L1254.7,641.2 L1255.2,662.9 L1255.7,684.6 L1256.2,706.2 L1256.7,727.7 L1257.2,749.1 L1257.7,770.4 L1258.2,791.5 L1258.7,812.5 L1259.2,833.2 L1259.7,853.7 L1260.2,874.0 L1260.7,893.9 L1261.2,913.6 L1261.7,932.9 L1262.2,951.9 L1262.7,970.5 L1263.2,988.8 L1263.8,1006.6 L1264.3,1024.0 L1264.8,1040.9 L1265.3,1057.4 L1265.8,1073.3 L1266.3,1088.8 L1266.8,1103.8 L1267.3,1118.3 L1267.8,1132.2 L1268.3,1145.6 L1268.8,1158.4 L1269.3,1170.6 L1269.8,1182.3 L1270.3,1193.4 L1270.8,1203.9 L1271.3,1213.8 L1271.8,1223.2 L1272.3,1231.9 L1272.8,1225.1 L1273.3,1214.9 L1273.8,1201.1 L1274.3,1180.3 L1274.8,1144.0 L1275.3,1085.2 L1275.8,976.7 L1276.3,904.0 L1276.9,846.3 L1277.4,798.5 L1277.9,764.2 L1278.4,739.0 L1278.9,719.5 L1279.4,705.2 L1279.9,699.0 L1280.4,696.3 L1281.7,701.3 L1282.2,719.2 L1282.7,737.1 L1283.2,754.9 L1283.7,772.7 L1284.2,790.4 L1284.7,808.0 L1285.2,825.4 L1285.7,842.7 L1286.2,859.8 L1286.7,876.8 L1287.2,893.5 L1287.7,910.0 L1288.2,926.2 L1288.7,942.2 L1289.2,957.8 L1289.7,973.2 L1290.2,988.3 L1290.8,1003.0 L1291.3,1017.3 L1291.8,1031.3 L1292.3,1044.9 L1292.8,1058.1 L1293.3,1070.9 L1293.8,1083.2 L1294.3,1095.2 L1294.8,1106.7 L1295.3,1117.7 L1295.8,1128.3 L1296.3,1138.4 L1296.8,1148.1 L1297.3,1157.2 L1297.8,1165.9 L1298.3,1174.1 L1298.8,1181.8 L1299.3,1189.0 L1299.8,1181.6 L1300.3,1170.3 L1300.8,1154.5 L1301.3,1129.3 L1301.8,1083.5 L1302.3,995.7 L1302.8,895.4 L1303.4,826.3 L1303.9,770.3 L1304.4,728.1 L1304.9,698.6 L1305.4,676.6 L1305.9,659.8 L1306.4,652.5 L1306.9,649.5 L1308.2,654.5 L1308.7,674.9 L1309.2,695.3 L1309.7,715.6 L1310.2,735.8 L1310.8,755.9 L1311.3,775.9 L1311.8,795.8 L1312.3,815.4 L1312.8,834.9 L1313.3,854.1 L1313.8,873.1 L1314.3,891.8 L1314.9,910.1 L1315.4,928.2 L1315.9,945.9 L1316.4,963.2 L1316.9,980.2 L1317.4,996.7 L1317.9,1012.8 L1318.4,1028.5 L1318.9,1043.7 L1319.5,1058.5 L1320.0,1072.7 L1320.5,1086.5 L1321.0,1099.7 L1321.5,1112.4 L1322.0,1124.6 L1322.5,1136.2 L1323.0,1147.3 L1323.6,1157.8 L1324.1,1167.7 L1324.6,1177.1 L1325.1,1185.9 L1325.6,1194.1 L1326.1,1187.9 L1326.6,1178.6 L1327.2,1166.4 L1327.7,1148.6 L1328.2,1119.6 L1328.7,1072.3 L1329.2,980.4 L1329.7,900.4 L1330.3,840.4 L1330.8,790.7 L1331.3,750.5 L1331.8,722.0 L1332.3,700.3 L1332.8,682.6 L1333.4,670.5 L1333.9,665.1 L1334.4,662.7 L1335.7,667.7 L1336.2,688.8 L1336.7,709.9 L1337.2,731.0 L1337.8,751.9 L1338.3,772.8 L1338.8,793.5 L1339.3,813.9 L1339.8,834.2 L1340.3,854.3 L1340.8,874.0 L1341.3,893.5 L1341.8,912.6 L1342.4,931.4 L1342.9,949.8 L1343.4,967.8 L1343.9,985.4 L1344.4,1002.5 L1344.9,1019.2 L1345.4,1035.4 L1346.0,1051.0 L1346.5,1066.2 L1347.0,1080.8 L1347.5,1094.8 L1348.0,1108.3 L1348.5,1121.1 L1349.0,1133.4 L1349.5,1145.1 L1350.0,1156.1 L1350.6,1166.6 L1351.1,1176.4 L1351.6,1185.6 L1352.1,1194.1 L1352.6,1188.0 L1353.1,1178.7 L1353.7,1166.6 L1354.2,1149.0 L1354.7,1120.1 L1355.2,1073.2 L1355.7,982.0 L1356.2,902.5 L1356.8,842.9 L1357.3,793.5 L1357.8,753.7 L1358.3,725.3 L1358.8,703.8 L1359.3,686.3 L1359.9,674.3 L1360.4,668.9 L1360.9,666.5 L1362.2,671.5 L1362.7,692.5 L1363.2,713.5 L1363.7,734.4 L1364.2,755.2 L1364.8,776.0 L1365.3,796.5 L1365.8,816.9 L1366.3,837.1 L1366.8,857.1 L1367.3,876.8 L1367.8,896.3 L1368.3,915.4 L1368.9,934.2 L1369.4,952.7 L1369.9,970.8 L1370.4,988.4 L1370.9,1005.7 L1371.4,1022.5 L1371.9,1038.8 L1372.4,1054.7 L1373.0,1070.1 L1373.5,1084.9 L1374.0,1099.3 L1374.5,1113.1 L1375.0,1126.3 L1375.5,1138.9 L1376.0,1151.0 L1376.5,1162.5 L1377.1,1173.4 L1377.6,1183.7 L1378.1,1193.4 L1378.6,1202.5 L1379.1,1211.0 L1379.6,1204.1 L1380.1,1193.6 L1380.7,1179.5 L1381.2,1158.2 L1381.7,1121.0 L1382.2,1060.8 L1382.7,949.7 L1383.2,875.3 L1383.8,816.2 L1384.3,767.3 L1384.8,732.2 L1385.3,706.5 L1385.8,686.5 L1386.4,671.8 L1386.9,665.4 L1387.4,662.7 L1388.7,667.7 L1389.2,689.0 L1389.7,710.4 L1390.2,731.6 L1390.7,752.8 L1391.2,773.9 L1391.7,794.8 L1392.2,815.6 L1392.7,836.1 L1393.2,856.5 L1393.7,876.6 L1394.2,896.4 L1394.7,916.0 L1395.2,935.2 L1395.7,954.1 L1396.2,972.6 L1396.7,990.8 L1397.2,1008.5 L1397.8,1025.8 L1398.3,1042.7 L1398.8,1059.1 L1399.3,1075.0 L1399.8,1090.5 L1400.3,1105.4 L1400.8,1119.8 L1401.3,1133.6 L1401.8,1146.9 L1402.3,1159.6 L1402.8,1171.8 L1403.3,1183.4 L1403.8,1194.4 L1404.3,1204.8 L1404.8,1214.6 L1405.3,1223.8 L1405.8,1232.4 L1406.3,1225.7 L1406.8,1215.6 L1407.3,1202.4 L1407.8,1183.2 L1408.3,1151.8 L1408.8,1100.6 L1409.3,1001.3 L1409.8,914.7 L1410.4,849.8 L1410.9,796.0 L1411.4,752.6 L1411.9,721.7 L1412.4,698.2 L1412.9,679.2 L1413.4,666.1 L1413.9,660.2 L1414.4,657.6 L1415.7,662.6 L1416.2,683.6 L1416.7,704.5 L1417.2,725.4 L1417.8,746.2 L1418.3,766.9 L1418.8,787.4 L1419.3,807.8 L1419.8,827.9 L1420.3,847.8 L1420.8,867.4 L1421.3,886.8 L1421.8,905.8 L1422.4,924.4 L1422.9,942.7 L1423.4,960.6 L1423.9,978.0 L1424.4,995.0 L1424.9,1011.6 L1425.4,1027.6 L1426.0,1043.2 L1426.5,1058.2 L1427.0,1072.7 L1427.5,1086.6 L1428.0,1100.0 L1428.5,1112.8 L1429.0,1125.0 L1429.5,1136.5 L1430.0,1147.5 L1430.6,1157.9 L1431.1,1167.6 L1431.6,1176.7 L1432.1,1185.2 L1432.6,1179.2 L1433.1,1170.2 L1433.6,1158.4 L1434.1,1141.2 L1434.6,1113.1 L1435.1,1067.3 L1435.6,978.4 L1436.1,900.9 L1436.7,842.8 L1437.2,794.7 L1437.7,755.8 L1438.2,728.2 L1438.7,707.2 L1439.2,690.1 L1439.7,678.4 L1440.2,673.1 L1440.7,670.8 L1442.0,675.8 L1442.5,696.5 L1443.0,717.2 L1443.5,737.8 L1444.0,758.3 L1444.6,778.7 L1445.1,799.0 L1445.6,819.1 L1446.1,839.0 L1446.6,858.6 L1447.1,878.1 L1447.6,897.2 L1448.1,916.1 L1448.7,934.6 L1449.2,952.8 L1449.7,970.6 L1450.2,988.0 L1450.7,1005.0 L1451.2,1021.5 L1451.7,1037.6 L1452.2,1053.3 L1452.8,1068.4 L1453.3,1083.0 L1453.8,1097.1 L1454.3,1110.7 L1454.8,1123.8 L1455.3,1136.2 L1455.8,1148.1 L1456.3,1159.5 L1456.9,1170.2 L1457.4,1180.3 L1457.9,1189.9 L1458.4,1198.8 L1458.9,1207.2 L1459.4,1201.3 L1459.9,1192.3 L1460.4,1180.1 L1460.9,1161.8 L1461.4,1129.8 L1461.9,1078.0 L1462.4,982.4 L1462.9,918.3 L1463.4,867.5 L1463.9,825.4 L1464.4,795.2 L1464.9,773.1 L1465.4,755.8 L1465.9,743.2 L1466.4,737.8 L1466.9,735.4 L1468.2,740.4 L1468.7,759.4 L1469.2,778.4 L1469.7,797.3 L1470.2,816.2 L1470.8,835.0 L1471.3,853.6 L1471.8,872.0 L1472.3,890.3 L1472.8,908.4 L1473.3,926.3 L1473.8,943.9 L1474.3,961.2 L1474.9,978.2 L1475.4,994.9 L1475.9,1011.3 L1476.4,1027.3 L1476.9,1042.9 L1477.4,1058.1 L1477.9,1072.9 L1478.4,1087.2 L1479.0,1101.2 L1479.5,1114.6 L1480.0,1127.6 L1480.5,1140.1 L1481.0,1152.0 L1481.5,1163.5 L1482.0,1174.4 L1482.5,1184.8 L1483.1,1194.7 L1483.6,1204.0 L1484.1,1212.8 L1484.6,1221.0 L1485.1,1228.7 L1485.6,1223.1 L1486.1,1214.6 L1486.6,1203.9 L1487.2,1188.7 L1487.7,1165.5 L1488.2,1127.2 L1488.7,1063.9 L1489.2,972.5 L1489.8,910.7 L1490.3,860.5 L1490.8,817.8 L1491.3,785.0 L1491.8,760.8 L1492.3,742.2 L1492.9,726.3 L1493.4,716.4 L1493.9,711.5 L1494.4,709.4 L1495.7,714.4 L1496.2,734.2 L1496.7,754.0 L1497.2,773.8 L1497.7,793.4 L1498.2,813.0 L1498.7,832.4 L1499.2,851.7 L1499.7,870.7 L1500.3,889.6 L1500.8,908.2 L1501.3,926.6 L1501.8,944.6 L1502.3,962.4 L1502.8,979.8 L1503.3,996.9 L1503.8,1013.5 L1504.3,1029.8 L1504.8,1045.7 L1505.3,1061.1 L1505.8,1076.1 L1506.3,1090.6 L1506.8,1104.6 L1507.3,1118.1 L1507.8,1131.2 L1508.4,1143.6 L1508.9,1155.6 L1509.4,1167.0 L1509.9,1177.8 L1510.4,1188.1 L1510.9,1197.9 L1511.4,1207.0 L1511.9,1215.6 L1512.4,1223.6 L1512.9,1217.1 L1513.4,1207.3 L1514.0,1193.5 L1514.5,1171.4 L1515.0,1131.5 L1515.5,1054.7 L1516.0,967.1 L1516.6,906.7 L1517.1,857.8 L1517.6,820.9 L1518.1,795.2 L1518.6,776.0 L1519.2,761.3 L1519.7,755.0 L1520.2,752.3 L1521.5,757.3 L1522.0,773.6 L1522.5,790.0 L1523.0,806.2 L1523.5,822.4 L1524.1,838.6 L1524.6,854.6 L1525.1,870.4 L1525.6,886.1 L1526.1,901.7 L1526.6,917.0 L1527.1,932.1 L1527.6,947.0 L1528.2,961.6 L1528.7,976.0 L1529.2,990.1 L1529.7,1003.8 L1530.2,1017.2 L1530.7,1030.3 L1531.2,1043.0 L1531.7,1055.3 L1532.3,1067.3 L1532.8,1078.9 L1533.3,1090.0 L1533.8,1100.7 L1534.3,1111.0 L1534.8,1120.9 L1535.3,1130.3 L1535.8,1139.2 L1536.4,1147.7 L1536.9,1155.7 L1537.4,1163.2 L1537.9,1170.3 L1538.4,1176.9 L1538.9,1171.6 L1539.4,1163.5 L1540.0,1153.0 L1540.5,1137.6 L1541.0,1112.6 L1541.5,1071.8 L1542.0,992.5 L1542.5,923.4 L1543.1,871.6 L1543.6,828.6 L1544.1,794.0 L1544.6,769.4 L1545.1,750.6 L1545.6,735.4 L1546.2,725.0 L1546.7,720.3 L1547.2,718.2 L1548.5,723.2 L1549.0,741.0 L1549.5,758.8 L1550.0,776.5 L1550.5,794.2 L1551.0,811.7 L1551.5,829.2 L1552.0,846.5 L1552.5,863.7 L1553.0,880.6 L1553.5,897.4 L1554.0,913.9 L1554.5,930.2 L1555.0,946.3 L1555.5,962.0 L1556.0,977.5 L1556.5,992.6 L1557.0,1007.4 L1557.6,1021.8 L1558.1,1035.9 L1558.6,1049.6 L1559.1,1062.9 L1559.6,1075.7 L1560.1,1088.2 L1560.6,1100.2 L1561.1,1111.7 L1561.6,1122.8 L1562.1,1133.4 L1562.6,1143.6 L1563.1,1153.2 L1563.6,1162.4 L1564.1,1171.1 L1564.6,1179.2 L1565.1,1186.9 L1565.6,1194.1 L1566.1,1189.5 L1566.6,1182.6 L1567.1,1173.2 L1567.6,1159.0 L1568.1,1134.3 L1568.6,1094.3 L1569.1,1020.5 L1569.7,971.0 L1570.2,931.8 L1570.7,899.3 L1571.2,876.0 L1571.7,858.9 L1572.2,845.6 L1572.7,835.8 L1573.2,831.6 L1573.7,829.8 L1575.0,834.8 L1575.5,850.8 L1576.0,866.7 L1576.5,882.6 L1577.0,898.4 L1577.5,914.2 L1578.0,929.8 L1578.5,945.3 L1579.0,960.6 L1579.5,975.7 L1580.0,990.6 L1580.5,1005.3 L1581.0,1019.8 L1581.5,1034.0 L1582.0,1047.9 L1582.5,1061.5 L1583.0,1074.8 L1583.6,1087.7 L1584.1,1100.3 L1584.6,1112.5 L1585.1,1124.3 L1585.6,1135.8 L1586.1,1146.8 L1586.6,1157.4 L1587.1,1167.6 L1587.6,1177.3 L1588.1,1186.6 L1588.6,1195.4 L1589.1,1203.7 L1589.6,1211.6 L1590.1,1219.0 L1590.6,1225.9 L1591.1,1232.4 L1591.6,1227.9 L1592.1,1221.1 L1592.7,1212.6 L1593.2,1201.0 L1593.7,1184.1 L1594.2,1156.5 L1594.7,1116.0 L1595.3,1037.6 L1595.8,980.8 L1596.3,935.4 L1596.8,897.1 L1597.4,864.8 L1597.9,840.9 L1598.4,822.4 L1598.9,807.9 L1599.4,795.4 L1600.0,788.1 L1600.5,784.2 L1601.0,782.6 L1602.3,787.6 L1602.8,804.6 L1603.3,821.6 L1603.8,838.5 L1604.3,855.4 L1604.8,872.1 L1605.3,888.8 L1605.8,905.3 L1606.3,921.6 L1606.8,937.8 L1607.3,953.7 L1607.8,969.5 L1608.3,985.0 L1608.8,1000.2 L1609.3,1015.1 L1609.8,1029.7 L1610.3,1044.0 L1610.9,1058.0 L1611.4,1071.6 L1611.9,1084.8 L1612.4,1097.7 L1612.9,1110.1 L1613.4,1122.1 L1613.9,1133.7 L1614.4,1144.9 L1614.9,1155.6 L1615.4,1165.8 L1615.9,1175.6 L1616.4,1184.9 L1616.9,1193.7 L1617.4,1202.0 L1617.9,1209.9 L1618.4,1217.2 L1618.9,1224.1 L1619.4,1219.7 L1619.9,1213.1 L1620.5,1204.2 L1621.0,1190.7 L1621.5,1167.2 L1622.0,1129.1 L1622.5,1058.9 L1623.1,1011.8 L1623.6,974.4 L1624.1,943.5 L1624.6,921.3 L1625.1,905.0 L1625.6,892.3 L1626.2,883.0 L1626.7,879.0 L1627.2,877.3 L1628.5,882.3 L1629.0,894.3 L1629.5,906.2 L1630.0,918.2 L1630.5,930.1 L1631.0,941.9 L1631.5,953.6 L1632.0,965.2 L1632.5,976.7 L1633.1,988.1 L1633.6,999.3 L1634.1,1010.3 L1634.6,1021.1 L1635.1,1031.8 L1635.6,1042.2 L1636.1,1052.4 L1636.6,1062.4 L1637.1,1072.1 L1637.6,1081.6 L1638.1,1090.7 L1638.6,1099.6 L1639.1,1108.2 L1639.6,1116.5 L1640.1,1124.4 L1640.7,1132.0 L1641.2,1139.3 L1641.7,1146.3 L1642.2,1152.9 L1642.7,1159.2 L1643.2,1165.1 L1643.7,1170.7 L1644.2,1175.9 L1644.7,1180.7 L1645.2,1176.7 L1645.7,1170.7 L1646.2,1163.2 L1646.8,1152.9 L1647.3,1137.9 L1647.8,1113.5 L1648.3,1077.7 L1648.8,1008.3 L1649.3,958.0 L1649.9,917.8 L1650.4,884.0 L1650.9,855.4 L1651.4,834.2 L1651.9,817.9 L1652.4,805.0 L1653.0,794.0 L1653.5,787.5 L1654.0,784.1 L1654.5,782.6 L1655.8,787.6 L1656.3,801.6 L1656.8,815.7 L1657.3,829.7 L1657.8,843.6 L1658.3,857.5 L1658.8,871.2 L1659.3,884.9 L1659.8,898.4 L1660.3,911.8 L1660.8,925.1 L1661.3,938.1 L1661.8,951.0 L1662.3,963.6 L1662.8,976.1 L1663.3,988.3 L1663.8,1000.2 L1664.3,1011.9 L1664.9,1023.3 L1665.4,1034.4 L1665.9,1045.2 L1666.4,1055.6 L1666.9,1065.8 L1667.4,1075.6 L1667.9,1085.1 L1668.4,1094.2 L1668.9,1102.9 L1669.4,1111.3 L1669.9,1119.3 L1670.4,1126.9 L1670.9,1134.2 L1671.4,1141.0 L1671.9,1147.5 L1672.4,1153.5 L1672.9,1159.2 L1673.4,1156.8 L1673.9,1153.1 L1674.4,1148.2 L1674.9,1140.8 L1675.4,1127.8 L1675.9,1106.9 L1676.4,1068.1 L1677.0,1042.2 L1677.5,1021.6 L1678.0,1004.6 L1678.5,992.3 L1679.0,983.4 L1679.5,976.4 L1680.0,971.3 L1680.5,969.1 L1681.0,968.1 L1682.3,973.1 L1682.8,982.7 L1683.3,992.2 L1683.8,1001.7 L1684.3,1011.2 L1684.8,1020.6 L1685.3,1029.9 L1685.8,1039.1 L1686.3,1048.2 L1686.8,1057.2 L1687.3,1066.0 L1687.8,1074.6 L1688.3,1083.1 L1688.8,1091.4 L1689.3,1099.5 L1689.9,1107.3 L1690.4,1114.9 L1690.9,1122.3 L1691.4,1129.5 L1691.9,1136.3 L1692.4,1142.9 L1692.9,1149.2 L1693.4,1155.3 L1693.9,1161.0 L1694.4,1166.5 L1694.9,1171.6 L1695.4,1176.4 L1695.9,1180.9 L1696.4,1185.1 L1696.9,1189.0 L1697.4,1186.3 L1697.9,1182.2 L1698.5,1177.3 L1699.0,1171.0 L1699.5,1162.6 L1700.0,1150.7 L1700.5,1132.4 L1701.0,1107.0 L1701.6,1060.0 L1702.1,1019.1 L1702.6,987.8 L1703.1,961.4 L1703.6,938.2 L1704.2,918.6 L1704.7,903.7 L1705.2,891.7 L1705.7,882.1 L1706.2,873.6 L1706.7,867.0 L1707.3,863.6 L1707.8,861.3 L1708.3,860.4 L1709.6,865.4 L1710.1,877.1 L1710.6,888.9 L1711.1,900.6 L1711.6,912.2 L1712.2,923.8 L1712.7,935.4 L1713.2,946.8 L1713.7,958.1 L1714.2,969.4 L1714.7,980.5 L1715.2,991.4 L1715.7,1002.2 L1716.2,1012.9 L1716.8,1023.3 L1717.3,1033.6 L1717.8,1043.7 L1718.3,1053.6 L1718.8,1063.2 L1719.3,1072.6 L1719.8,1081.8 L1720.3,1090.7 L1720.9,1099.4 L1721.4,1107.7 L1721.9,1115.9 L1722.4,1123.7 L1722.9,1131.2 L1723.4,1138.5 L1723.9,1145.4 L1724.4,1152.0 L1724.9,1158.3 L1725.5,1164.4 L1726.0,1170.0 L1726.5,1175.4 L1727.0,1180.5 L1727.5,1185.2 L1728.0,1184.2 L1728.5,1182.6 L1729.0,1180.7 L1729.6,1178.1 L1730.1,1174.3 L1730.6,1168.0 L1731.1,1158.9 L1731.6,1141.1 L1732.1,1128.3 L1732.7,1118.1 L1733.2,1109.4 L1733.7,1102.1 L1734.2,1096.7 L1734.7,1092.5 L1735.2,1089.2 L1735.8,1086.4 L1736.3,1084.8 L1736.8,1083.9 L1737.3,1083.5 L1738.6,1088.5 L1739.1,1093.7 L1739.6,1098.9 L1740.1,1104.0 L1740.6,1109.1 L1741.1,1114.1 L1741.6,1119.1 L1742.1,1123.9 L1742.6,1128.7 L1743.1,1133.3 L1743.6,1137.8 L1744.2,1142.2 L1744.7,1146.3 L1745.2,1150.3 L1745.7,1154.2 L1746.2,1157.8 L1746.7,1161.3 L1747.2,1164.5 L1747.7,1167.5 L1748.2,1170.3 L1748.7,1172.9 L1749.2,1175.3 L1749.7,1177.4 L1750.2,1175.7 L1750.7,1173.1 L1751.2,1170.1 L1751.8,1166.6 L1752.3,1162.2 L1752.8,1156.6 L1753.3,1149.4 L1753.8,1138.9 L1754.3,1124.7 L1754.8,1106.5 L1755.4,1073.2 L1755.9,1044.3 L1756.4,1022.1 L1756.9,1003.0 L1757.4,986.1 L1757.9,970.9 L1758.5,957.5 L1759.0,946.9 L1759.5,938.2 L1760.0,930.8 L1760.5,924.6 L1761.0,919.0 L1761.5,914.2 L1762.1,911.2 L1762.6,909.4 L1763.1,908.1 L1763.6,907.6 L1764.9,912.6 L1765.4,922.4 L1765.9,932.1 L1766.4,941.9 L1766.9,951.6 L1767.4,961.3 L1767.9,970.9 L1768.4,980.4 L1768.9,989.9 L1769.4,999.3 L1769.9,1008.6 L1770.4,1017.8 L1770.9,1026.9 L1771.4,1035.8 L1771.9,1044.7 L1772.4,1053.4 L1772.9,1061.9 L1773.4,1070.3 L1773.9,1078.5 L1774.5,1086.5 L1775.0,1094.3 L1775.5,1102.0 L1776.0,1109.5 L1776.5,1116.7 L1777.0,1123.8 L1777.5,1130.6 L1778.0,1137.2 L1778.5,1143.6 L1779.0,1149.7 L1779.5,1155.6 L1780.0,1161.3 L1780.5,1166.7 L1781.0,1171.9 L1781.5,1176.9 L1782.0,1181.5 L1782.5,1186.0 L1783.0,1190.2 L1783.5,1194.1 L1784.0,1193.2 L1784.5,1191.8 L1785.0,1190.2 L1785.6,1188.2 L1786.1,1185.6 L1786.6,1182.2 L1787.1,1177.2 L1787.6,1170.0 L1788.2,1160.4 L1788.7,1142.5 L1789.2,1129.3 L1789.7,1118.7 L1790.2,1109.5 L1790.7,1101.5 L1791.2,1094.4 L1791.8,1088.8 L1792.3,1084.4 L1792.8,1080.7 L1793.3,1077.7 L1793.8,1074.9 L1794.4,1072.9 L1794.9,1071.9 L1795.4,1071.2 L1795.9,1070.9 L1797.2,1075.9 L1797.7,1079.7 L1798.2,1083.4 L1798.7,1087.1 L1799.2,1090.8 L1799.7,1094.5 L1800.2,1098.1 L1800.7,1101.7 L1801.2,1105.2 L1801.7,1108.6 L1802.2,1111.9 L1802.7,1115.1 L1803.2,1118.3 L1803.8,1121.3 L1804.3,1124.2 L1804.8,1127.0 L1805.3,1129.7 L1805.8,1132.2 L1806.3,1134.7 L1806.8,1136.9 L1807.3,1139.1 L1807.8,1141.0 L1808.3,1142.9 L1808.8,1144.6 L1809.3,1146.1 L1809.8,1143.9 L1810.3,1140.6 L1810.8,1136.5 L1811.3,1131.1 L1811.8,1123.5 L1812.3,1111.5 L1812.8,1093.6 L1813.3,1062.1 L1813.8,1027.3 L1814.3,1002.5 L1814.9,982.0 L1815.4,964.1 L1815.9,949.6 L1816.4,938.9 L1816.9,930.3 L1817.4,923.4 L1817.9,917.5 L1818.4,914.3 L1818.9,912.4 L1819.4,911.6 L1820.7,916.6 L1821.2,927.1 L1821.7,937.7 L1822.2,948.2 L1822.7,958.6 L1823.3,969.1 L1823.8,979.4 L1824.3,989.8 L1824.8,1000.0 L1825.3,1010.1 L1825.8,1020.2 L1826.3,1030.1 L1826.8,1040.0 L1827.3,1049.7 L1827.8,1059.2 L1828.4,1068.6 L1828.9,1077.9 L1829.4,1087.0 L1829.9,1095.9 L1830.4,1104.7 L1830.9,1113.2 L1831.4,1121.6 L1831.9,1129.7 L1832.4,1137.7 L1833.0,1145.4 L1833.5,1152.9 L1834.0,1160.2 L1834.5,1167.3 L1835.0,1174.1 L1835.5,1180.6 L1836.0,1187.0 L1836.5,1193.0 L1837.0,1198.8 L1837.5,1204.4 L1838.1,1209.7 L1838.6,1214.7 L1839.1,1219.5 L1839.6,1224.0 L1840.1,1228.2 L1840.6,1225.9 L1841.1,1222.6 L1841.6,1218.4 L1842.1,1212.8 L1842.6,1205.1 L1843.1,1192.8 L1843.6,1174.4 L1844.1,1142.2 L1844.6,1106.6 L1845.2,1081.2 L1845.7,1060.1 L1846.2,1041.9 L1846.7,1027.0 L1847.2,1016.0 L1847.7,1007.3 L1848.2,1000.2 L1848.7,994.1 L1849.2,990.8 L1849.7,988.9 L1850.2,988.1"/>
<path stroke="#F0A064" d="M253.9,924.0 L254.9,930.4 L255.9,930.4 L256.9,932.6 L257.9,932.6 L258.9,936.9 L259.9,941.2 L260.9,936.9 L261.9,939.0 L262.9,936.9 L263.9,934.7 L264.9,934.7 L265.9,928.3 L266.9,934.7 L267.9,932.6 L268.9,932.6 L269.9,924.0 L270.9,924.0 L271.9,928.3 L272.9,930.4 L273.9,934.7 L274.9,934.7 L275.9,936.9 L276.9,934.7 L277.9,939.0 L278.9,941.2 L279.9,941.2 L280.9,949.7 L281.9,949.7 L282.9,954.0 L283.9,949.7 L284.9,951.9 L285.9,954.0 L286.9,956.2 L287.9,960.5 L288.9,960.5 L289.9,960.5 L290.9,958.3 L291.9,958.3 L292.9,964.8 L293.9,956.2 L294.9,960.5 L295.9,960.5 L296.9,951.9 L297.9,956.2 L298.9,960.5 L299.9,949.7 L300.9,954.0 L301.9,954.0 L302.9,949.7 L303.9,954.0 L304.9,951.9 L305.9,947.6 L306.9,954.0 L307.9,954.0 L308.9,954.0 L309.9,954.0 L310.9,951.9 L311.9,949.7 L312.9,945.4 L313.9,951.9 L314.9,947.6 L315.9,947.6 L316.9,945.4 L317.9,945.4 L318.9,947.6 L319.9,954.0 L320.9,945.4 L321.9,947.6 L322.9,954.0 L323.9,958.3 L324.9,956.2 L325.9,947.6 L326.9,947.6 L327.9,956.2 L328.9,954.0 L329.9,951.9 L330.9,958.3 L331.9,958.3 L332.9,956.2 L333.9,956.2 L334.9,956.2 L335.9,960.5 L336.9,958.3 L337.9,958.3 L338.9,958.3 L339.9,949.7 L340.9,960.5 L341.9,958.3 L342.9,958.3 L343.9,949.7 L344.9,954.0 L345.9,958.3 L346.9,949.7 L347.9,956.2 L348.9,958.3 L349.9,951.9 L350.9,960.5 L351.9,958.3 L352.9,956.2 L353.9,956.2 L354.9,956.2 L355.9,954.0 L356.9,956.2 L357.9,949.7 L358.9,949.7 L359.9,951.9 L360.9,947.6 L361.9,945.4 L362.9,949.7 L363.9,949.7 L364.9,943.3 L365.9,939.0 L366.9,943.3 L367.9,941.2 L368.9,941.2 L369.9,945.4 L370.9,936.9 L371.9,945.4 L372.9,936.9 L373.9,939.0 L374.9,945.4 L375.9,947.6 L376.9,947.6 L377.9,947.6 L378.9,947.6 L379.9,947.6 L380.9,949.7 L381.9,947.6 L382.9,949.7 L383.9,949.7 L384.9,949.7 L385.9,951.9 L386.9,951.9 L387.9,956.2 L388.9,951.9 L389.9,949.7 L390.9,949.7 L391.9,951.9 L392.9,956.2 L393.9,954.0 L394.9,958.3 L395.9,964.8 L396.9,954.0 L397.9,960.5 L398.9,966.9 L399.9,969.1 L400.9,971.2 L401.9,971.2 L402.9,977.7 L403.9,977.7 L404.9,977.7 L405.9,988.4 L406.9,979.8 L407.9,977.7 L408.9,977.7 L409.9,975.5 L410.9,975.5 L411.9,966.9 L412.9,973.4 L413.9,977.7 L414.9,969.1 L415.9,971.2 L416.9,973.4 L417.9,973.4 L418.9,973.4 L419.9,962.6 L420.9,966.9 L421.9,964.8 L422.9,966.9 L423.9,969.1 L424.9,956.2 L425.9,966.9 L426.9,958.3 L427.9,964.8 L428.9,956.2 L429.9,960.5 L430.9,964.8 L431.9,960.5 L432.9,960.5 L433.9,962.6 L434.9,960.5 L435.9,960.5 L436.9,964.8 L437.9,964.8 L438.9,960.5 L439.9,969.1 L440.9,956.2 L441.9,962.6 L442.9,960.5 L443.9,962.6 L444.9,962.6 L445.9,962.6 L446.9,964.8 L447.9,956.2 L448.9,958.3 L449.9,964.8 L450.9,960.5 L451.9,960.5 L452.9,958.3 L453.9,966.9 L454.9,964.8 L455.9,966.9 L456.9,958.3 L457.9,962.6 L458.9,958.3 L459.9,962.6 L460.9,966.9 L461.9,958.3 L462.9,964.8 L463.9,962.6 L464.9,958.3 L465.9,951.9 L466.9,962.6 L467.9,956.2 L468.9,954.0 L469.9,956.2 L470.9,954.0 L471.9,956.2 L472.9,945.4 L473.9,951.9 L474.9,951.9 L475.9,949.7 L476.9,943.3 L477.9,941.2 L478.9,947.6 L479.9,945.4 L480.9,945.4 L481.9,951.9 L482.9,945.4 L483.9,941.2 L484.9,947.6 L485.9,943.3 L486.9,951.9 L487.9,949.7 L488.9,945.4 L489.9,945.4 L490.9,945.4 L491.9,941.2 L492.9,943.3 L493.9,936.9 L494.9,939.0 L495.9,941.2 L496.9,941.2 L497.9,932.6 L498.9,939.0 L499.9,930.4 L500.9,932.6 L501.9,928.3 L502.9,939.0 L503.9,932.6 L504.9,934.7 L505.9,936.9 L506.9,941.2 L507.9,941.2 L508.9,947.6 L509.9,954.0 L510.9,951.9 L511.9,956.2 L512.9,960.5 L513.9,960.5 L514.9,954.0 L515.9,956.2 L516.9,958.3 L517.9,947.6 L518.9,949.7 L519.9,954.0 L520.9,951.9 L521.9,947.6 L522.9,947.6 L523.9,943.3 L524.9,936.9 L525.9,932.6 L526.9,934.7 L527.9,936.9 L528.9,930.4 L529.9,926.1 L530.9,924.0 L531.9,919.7 L532.9,921.8 L533.9,919.7 L534.9,926.1 L535.9,919.7 L536.9,928.3 L537.9,926.1 L538.9,924.0 L539.9,934.7 L540.9,932.6 L541.9,926.1 L542.9,932.6 L543.9,934.7 L544.9,932.6 L545.9,934.7 L546.9,934.7 L547.9,932.6 L548.9,930.4 L549.9,932.6 L550.9,930.4 L551.9,928.3 L552.9,919.7 L553.9,928.3 L554.9,928.3 L555.9,921.8 L556.9,921.8 L557.9,930.4 L558.9,917.5 L559.9,926.1 L560.9,932.6 L561.9,921.8 L562.9,926.1 L563.9,930.4 L564.9,924.0 L565.9,926.1 L566.9,928.3 L567.9,921.8 L568.9,924.0 L569.9,924.0 L570.9,926.1 L571.9,921.8 L572.9,921.8 L573.9,917.5 L574.9,919.7 L575.9,921.8 L576.9,917.5 L577.9,915.4 L578.9,913.2 L579.9,924.0 L580.9,917.5 L581.9,915.4 L582.9,904.6 L583.9,915.4 L584.9,915.4 L585.9,921.8 L586.9,917.5 L587.9,917.5 L588.9,919.7 L589.9,913.2 L590.9,924.0 L591.9,921.8 L592.9,919.7 L593.9,926.1 L594.9,926.1 L595.9,915.4 L596.9,915.4 L597.9,917.5 L598.9,915.4 L599.9,913.2 L600.9,908.9 L601.9,919.7 L602.9,915.4 L603.9,908.9 L604.9,908.9 L605.9,917.5 L606.9,915.4 L607.9,919.7 L608.9,915.4 L609.9,911.1 L610.9,913.2 L611.9,906.8 L612.9,913.2 L613.9,917.5 L614.9,919.7 L615.9,917.5 L616.9,921.8 L617.9,924.0 L618.9,926.1 L619.9,928.3 L620.9,928.3 L621.9,928.3 L622.9,932.6 L623.9,928.3 L624.9,924.0 L625.9,924.0 L626.9,924.0 L627.9,921.8 L628.9,921.8 L629.9,919.7 L630.9,917.5 L631.9,915.4 L632.9,911.1 L633.9,913.2 L634.9,915.4 L635.9,913.2 L636.9,911.1 L637.9,913.2 L638.9,906.8 L639.9,904.6 L640.9,908.9 L641.9,906.8 L642.9,911.1 L643.9,904.6 L644.9,898.2 L645.9,902.5 L646.9,911.1 L647.9,904.6 L648.9,900.3 L649.9,902.5 L650.9,904.6 L651.9,904.6 L652.9,902.5 L653.9,906.8 L654.9,902.5 L655.9,900.3 L656.9,902.5 L657.9,904.6 L658.9,902.5 L659.9,902.5 L660.9,896.0 L661.9,898.2 L662.9,900.3 L663.9,898.2 L664.9,902.5 L665.9,900.3 L666.9,900.3 L667.9,898.2 L668.9,906.8 L669.9,900.3 L670.9,893.9 L671.9,893.9 L672.9,902.5 L673.9,891.7 L674.9,893.9 L675.9,891.7 L676.9,887.4 L677.9,883.1 L678.9,887.4 L679.9,885.3 L680.9,887.4 L681.9,887.4 L682.9,885.3 L683.9,889.6 L684.9,889.6 L685.9,889.6 L686.9,889.6 L687.9,889.6 L688.9,893.9 L689.9,889.6 L690.9,891.7 L691.9,896.0 L692.9,891.7 L693.9,896.0 L694.9,893.9 L695.9,898.2 L696.9,902.5 L697.9,904.6 L698.9,904.6 L699.9,904.6 L700.9,902.5 L701.9,913.2 L702.9,908.9 L703.9,908.9 L704.9,902.5 L705.9,902.5 L706.9,896.0 L707.9,902.5 L708.9,902.5 L709.9,891.7 L710.9,896.0 L711.9,898.2 L712.9,889.6 L713.9,887.4 L714.9,889.6 L715.9,891.7 L716.9,889.6 L717.9,896.0 L718.9,896.0 L719.9,898.2 L720.9,900.3 L721.9,902.5 L722.9,902.5 L723.9,896.0 L724.9,898.2 L725.9,896.0 L726.9,896.0 L727.9,898.2 L728.9,896.0 L729.9,898.2 L730.9,889.6 L731.9,891.7 L732.9,893.9 L733.9,891.7 L734.9,891.7 L735.9,893.9 L736.9,891.7 L737.9,896.0 L738.9,896.0 L739.9,896.0 L740.9,893.9 L741.9,896.0 L742.9,889.6 L743.9,896.0 L744.9,898.2 L745.9,893.9 L746.9,900.3 L747.9,898.2 L748.9,893.9 L749.9,898.2 L750.9,898.2 L751.9,900.3 L752.9,900.3 L753.9,898.2 L754.9,896.0 L755.9,896.0 L756.9,893.9 L757.9,893.9 L758.9,889.6 L759.9,876.7 L760.9,870.2 L761.9,865.9 L762.9,859.5 L763.9,850.9 L764.9,844.5 L765.9,833.7 L766.9,825.1 L767.9,814.4 L768.9,792.9 L769.9,782.2 L770.9,765.0 L771.9,765.0 L772.9,758.5 L773.9,758.5 L774.9,745.6 L775.9,749.9 L776.9,756.4 L777.9,760.7 L778.9,769.3 L779.9,775.7 L780.9,786.4 L781.9,792.9 L782.9,799.3 L783.9,805.8 L784.9,812.2 L785.9,816.5 L786.9,814.4 L787.9,823.0 L788.9,816.5 L789.9,823.0 L790.9,831.6 L791.9,825.1 L792.9,829.4 L793.9,833.7 L794.9,833.7 L795.9,831.6 L796.9,838.0 L797.9,842.3 L798.9,848.8 L799.9,848.8 L800.9,863.8 L801.9,868.1 L802.9,868.1 L803.9,872.4 L804.9,872.4 L805.9,881.0 L806.9,876.7 L807.9,885.3 L808.9,883.1 L809.9,885.3 L810.9,889.6 L811.9,889.6 L812.9,881.0 L813.9,876.7 L814.9,878.8 L815.9,874.5 L816.9,872.4 L817.9,874.5 L818.9,870.2 L819.9,865.9 L820.9,872.4 L821.9,863.8 L822.9,865.9 L823.9,859.5 L824.9,861.7 L825.9,855.2 L826.9,868.1 L827.9,868.1 L828.9,861.7 L829.9,861.7 L830.9,861.7 L831.9,870.2 L832.9,868.1 L833.9,870.2 L834.9,872.4 L835.9,874.5 L836.9,872.4 L837.9,878.8 L838.9,872.4 L839.9,876.7 L840.9,876.7 L841.9,874.5 L842.9,872.4 L843.9,868.1 L844.9,870.2 L845.9,868.1 L846.9,876.7 L847.9,876.7 L848.9,876.7 L849.9,878.8 L850.9,881.0 L851.9,883.1 L852.9,887.4 L853.9,891.7 L854.9,893.9 L855.9,896.0 L856.9,902.5 L857.9,893.9 L858.9,898.2 L859.9,908.9 L860.9,896.0 L861.9,902.5 L862.9,906.8 L863.9,906.8 L864.9,906.8 L865.9,902.5 L866.9,902.5 L867.9,900.3 L868.9,902.5 L869.9,891.7 L870.9,893.9 L871.9,893.9 L872.9,887.4 L873.9,885.3 L874.9,887.4 L875.9,881.0 L876.9,883.1 L877.9,881.0 L878.9,878.8 L879.9,881.0 L880.9,881.0 L881.9,878.8 L882.9,885.3 L883.9,889.6 L884.9,887.4 L885.9,891.7 L886.9,893.9 L887.9,889.6 L888.9,896.0 L889.9,900.3 L890.9,893.9 L891.9,896.0 L892.9,896.0 L893.9,900.3 L894.9,893.9 L895.9,891.7 L896.9,883.1 L897.9,881.0 L898.9,878.8 L899.9,870.2 L900.9,876.7 L901.9,870.2 L902.9,861.7 L903.9,874.5 L904.9,874.5 L905.9,881.0 L906.9,883.1 L907.9,881.0 L908.9,887.4 L909.9,893.9 L910.9,885.3 L911.9,885.3 L912.9,883.1 L913.9,883.1 L914.9,887.4 L915.9,883.1 L916.9,865.9 L917.9,855.2 L918.9,850.9 L919.9,844.5 L920.9,844.5 L921.9,850.9 L922.9,850.9 L923.9,848.8 L924.9,848.8 L925.9,853.1 L926.9,853.1 L927.9,846.6 L928.9,848.8 L929.9,846.6 L930.9,848.8 L931.9,846.6 L932.9,848.8 L933.9,850.9 L934.9,857.4 L935.9,861.7 L936.9,857.4 L937.9,863.8 L938.9,861.7 L939.9,863.8 L940.9,868.1 L941.9,872.4 L942.9,865.9 L943.9,870.2 L944.9,870.2 L945.9,863.8 L946.9,865.9 L947.9,861.7 L948.9,861.7 L949.9,853.1 L950.9,846.6 L951.9,848.8 L952.9,846.6 L953.9,842.3 L954.9,850.9 L955.9,853.1 L956.9,859.5 L957.9,870.2 L958.9,870.2 L959.9,878.8 L960.9,881.0 L961.9,887.4 L962.9,885.3 L963.9,889.6 L964.9,887.4 L965.9,893.9 L966.9,900.3 L967.9,891.7 L968.9,902.5 L969.9,893.9 L970.9,896.0 L971.9,898.2 L972.9,900.3 L973.9,893.9 L974.9,891.7 L975.9,898.2 L976.9,898.2 L977.9,896.0 L978.9,900.3 L979.9,889.6 L980.9,889.6 L981.9,889.6 L982.9,885.3 L983.9,889.6 L984.9,876.7 L985.9,878.8 L986.9,870.2 L987.9,881.0 L988.9,881.0 L989.9,889.6 L990.9,896.0 L991.9,891.7 L992.9,893.9 L993.9,898.2 L994.9,898.2 L995.9,900.3 L996.9,906.8 L997.9,904.6 L998.9,906.8 L999.9,906.8 L1000.9,911.1 L1001.9,911.1 L1002.9,915.4 L1003.9,926.1 L1004.9,930.4 L1005.9,934.7 L1006.9,939.0 L1007.9,932.6 L1008.9,924.0 L1009.9,926.1 L1010.9,919.7 L1011.9,908.9 L1012.9,915.4 L1013.9,908.9 L1014.9,906.8 L1015.9,906.8 L1016.9,906.8 L1017.9,904.6 L1018.9,915.4 L1019.9,913.2 L1020.9,915.4 L1021.9,917.5 L1022.9,919.7 L1023.9,924.0 L1024.9,921.8 L1025.9,919.7 L1026.9,908.9 L1027.9,911.1 L1028.9,913.2 L1029.9,911.1 L1030.9,902.5 L1031.9,900.3 L1032.9,906.8 L1033.9,908.9 L1034.9,919.7 L1035.9,921.8 L1036.9,917.5 L1037.9,919.7 L1038.9,913.2 L1039.9,915.4 L1040.9,915.4 L1041.9,915.4 L1042.9,917.5 L1043.9,921.8 L1044.9,911.1 L1045.9,913.2 L1046.9,919.7 L1047.9,917.5 L1048.9,926.1 L1049.9,928.3 L1050.9,928.3 L1051.9,936.9 L1052.9,936.9 L1053.9,954.0 L1054.9,954.0 L1055.9,941.2 L1056.9,928.3 L1057.9,930.4 L1058.9,936.9 L1059.9,936.9 L1060.9,939.0 L1061.9,941.2 L1062.9,943.3 L1063.9,934.7 L1064.9,932.6 L1065.9,934.7 L1066.9,928.3 L1067.9,921.8 L1068.9,930.4 L1069.9,926.1 L1070.9,911.1 L1071.9,913.2 L1072.9,913.2 L1073.9,911.1 L1074.9,906.8 L1075.9,904.6 L1076.9,904.6 L1077.9,911.1 L1078.9,915.4 L1079.9,911.1 L1080.9,915.4 L1081.9,919.7 L1082.9,917.5 L1083.9,919.7 L1084.9,917.5 L1085.9,919.7 L1086.9,913.2 L1087.9,911.1 L1088.9,911.1 L1089.9,911.1 L1090.9,906.8 L1091.9,908.9 L1092.9,908.9 L1093.9,908.9 L1094.9,908.9 L1095.9,898.2 L1096.9,898.2 L1097.9,889.6 L1098.9,902.5 L1099.9,891.7 L1100.9,893.9 L1101.9,900.3 L1102.9,896.0 L1103.9,906.8 L1104.9,906.8 L1105.9,904.6 L1106.9,915.4 L1107.9,921.8 L1108.9,911.1 L1109.9,917.5 L1110.9,913.2 L1111.9,911.1 L1112.9,908.9 L1113.9,911.1 L1114.9,904.6 L1115.9,908.9 L1116.9,902.5 L1117.9,906.8 L1118.9,900.3 L1119.9,902.5 L1120.9,906.8 L1121.9,902.5 L1122.9,898.2 L1123.9,896.0 L1124.9,896.0 L1125.9,898.2 L1126.9,900.3 L1127.9,896.0 L1128.9,898.2 L1129.9,898.2 L1130.9,904.6 L1131.9,900.3 L1132.9,900.3 L1133.9,906.8 L1134.9,906.8 L1135.9,906.8 L1136.9,908.9 L1137.9,911.1 L1138.9,915.4 L1139.9,913.2 L1140.9,906.8 L1141.9,911.1 L1142.9,908.9 L1143.9,904.6 L1144.9,908.9 L1145.9,904.6 L1146.9,902.5 L1147.9,906.8 L1148.9,906.8 L1149.9,900.3 L1150.9,902.5 L1151.9,898.2 L1152.9,906.8 L1153.9,896.0 L1154.9,900.3 L1155.9,893.9 L1156.9,898.2 L1157.9,902.5 L1158.9,885.3 L1159.9,891.7 L1160.9,893.9 L1161.9,891.7 L1162.9,889.6 L1163.9,898.2 L1164.9,893.9 L1165.9,889.6 L1166.9,900.3 L1167.9,896.0 L1168.9,906.8 L1169.9,900.3 L1170.9,902.5 L1171.9,904.6 L1172.9,900.3 L1173.9,893.9 L1174.9,893.9 L1175.9,902.5 L1176.9,900.3 L1177.9,896.0 L1178.9,902.5 L1179.9,902.5 L1180.9,904.6 L1181.9,896.0 L1182.9,902.5 L1183.9,908.9 L1184.9,904.6 L1185.9,904.6 L1186.9,891.7 L1187.9,898.2 L1188.9,896.0 L1189.9,902.5 L1190.9,891.7 L1191.9,893.9 L1192.9,898.2 L1193.9,902.5 L1194.9,898.2 L1195.9,906.8 L1196.9,902.5 L1197.9,906.8 L1198.9,906.8 L1199.9,906.8 L1200.9,904.6 L1201.9,900.3 L1202.9,906.8 L1203.9,904.6 L1204.9,900.3 L1205.9,902.5 L1206.9,902.5 L1207.9,896.0 L1208.9,898.2 L1209.9,900.3 L1210.9,900.3 L1211.9,900.3 L1212.9,893.9 L1213.9,906.8 L1214.9,904.6 L1215.9,904.6 L1216.9,904.6 L1217.9,906.8 L1218.9,906.8 L1219.9,906.8 L1220.9,913.2 L1221.9,917.5 L1222.9,921.8 L1223.9,924.0 L1224.9,932.6 L1225.9,926.1 L1226.9,934.7 L1227.9,928.3 L1228.9,932.6 L1229.9,936.9 L1230.9,932.6 L1231.9,924.0 L1232.9,919.7 L1233.9,913.2 L1234.9,904.6 L1235.9,906.8 L1236.9,906.8 L1237.9,904.6 L1238.9,904.6 L1239.9,904.6 L1240.9,904.6 L1241.9,902.5 L1242.9,904.6 L1243.9,906.8 L1244.9,911.1 L1245.9,913.2 L1246.9,915.4 L1247.9,917.5 L1248.9,913.2 L1249.9,917.5 L1250.9,919.7 L1251.9,917.5 L1252.9,919.7 L1253.9,919.7 L1254.9,915.4 L1255.9,919.7 L1256.9,904.6 L1257.9,908.9 L1258.9,902.5 L1259.9,908.9 L1260.9,913.2 L1261.9,896.0 L1262.9,902.5 L1263.9,904.6 L1264.9,902.5 L1265.9,906.8 L1266.9,898.2 L1267.9,908.9 L1268.9,906.8 L1269.9,906.8 L1270.9,904.6 L1271.9,908.9 L1272.9,911.1 L1273.9,917.5 L1274.9,921.8 L1275.9,911.1 L1276.9,915.4 L1277.9,911.1 L1278.9,908.9 L1279.9,900.3 L1280.9,898.2 L1281.9,898.2 L1282.9,898.2 L1283.9,900.3 L1284.9,902.5 L1285.9,885.3 L1286.9,872.4 L1287.9,878.8 L1288.9,878.8 L1289.9,874.5 L1290.9,872.4 L1291.9,863.8 L1292.9,861.7 L1293.9,863.8 L1294.9,855.2 L1295.9,850.9 L1296.9,850.9 L1297.9,861.7 L1298.9,857.4 L1299.9,846.6 L1300.9,842.3 L1301.9,842.3 L1302.9,835.9 L1303.9,840.2 L1304.9,831.6 L1305.9,825.1 L1306.9,833.7 L1307.9,835.9 L1308.9,844.5 L1309.9,848.8 L1310.9,850.9 L1311.9,853.1 L1312.9,848.8 L1313.9,846.6 L1314.9,844.5 L1315.9,848.8 L1316.9,850.9 L1317.9,855.2 L1318.9,859.5 L1319.9,865.9 L1320.9,868.1 L1321.9,868.1 L1322.9,872.4 L1323.9,870.2 L1324.9,881.0 L1325.9,883.1 L1326.9,883.1 L1327.9,881.0 L1328.9,881.0 L1329.9,885.3 L1330.9,881.0 L1331.9,881.0 L1332.9,876.7 L1333.9,872.4 L1334.9,874.5 L1335.9,865.9 L1336.9,865.9 L1337.9,863.8 L1338.9,863.8 L1339.9,870.2 L1340.9,870.2 L1341.9,863.8 L1342.9,865.9 L1343.9,868.1 L1344.9,865.9 L1345.9,868.1 L1346.9,859.5 L1347.9,861.7 L1348.9,865.9 L1349.9,868.1 L1350.9,863.8 L1351.9,861.7 L1352.9,861.7 L1353.9,861.7 L1354.9,861.7 L1355.9,868.1 L1356.9,861.7 L1357.9,863.8 L1358.9,870.2 L1359.9,868.1 L1360.9,865.9 L1361.9,861.7 L1362.9,865.9 L1363.9,870.2 L1364.9,865.9 L1365.9,870.2 L1366.9,865.9 L1367.9,868.1 L1368.9,865.9 L1369.9,868.1 L1370.9,872.4 L1371.9,868.1 L1372.9,876.7 L1373.9,881.0 L1374.9,878.8 L1375.9,878.8 L1376.9,881.0 L1377.9,883.1 L1378.9,878.8 L1379.9,876.7 L1380.9,870.2 L1381.9,883.1 L1382.9,878.8 L1383.9,881.0 L1384.9,878.8 L1385.9,883.1 L1386.9,878.8 L1387.9,881.0 L1388.9,878.8 L1389.9,876.7 L1390.9,874.5 L1391.9,870.2 L1392.9,876.7 L1393.9,868.1 L1394.9,861.7 L1395.9,865.9 L1396.9,863.8 L1397.9,863.8 L1398.9,865.9 L1399.9,868.1 L1400.9,861.7 L1401.9,865.9 L1402.9,870.2 L1403.9,870.2 L1404.9,870.2 L1405.9,874.5 L1406.9,876.7 L1407.9,881.0 L1408.9,885.3 L1409.9,885.3 L1410.9,876.7 L1411.9,883.1 L1412.9,878.8 L1413.9,881.0 L1414.9,876.7 L1415.9,876.7 L1416.9,881.0 L1417.9,870.2 L1418.9,868.1 L1419.9,865.9 L1420.9,861.7 L1421.9,863.8 L1422.9,872.4 L1423.9,872.4 L1424.9,870.2 L1425.9,874.5 L1426.9,885.3 L1427.9,885.3 L1428.9,887.4 L1429.9,891.7 L1430.9,896.0 L1431.9,900.3 L1432.9,898.2 L1433.9,898.2 L1434.9,900.3 L1435.9,902.5 L1436.9,900.3 L1437.9,893.9 L1438.9,896.0 L1439.9,893.9 L1440.9,891.7 L1441.9,889.6 L1442.9,885.3 L1443.9,885.3 L1444.9,881.0 L1445.9,889.6 L1446.9,887.4 L1447.9,881.0 L1448.9,887.4 L1449.9,885.3 L1450.9,876.7 L1451.9,887.4 L1452.9,885.3 L1453.9,887.4 L1454.9,878.8 L1455.9,885.3 L1456.9,887.4 L1457.9,887.4 L1458.9,889.6 L1459.9,891.7 L1460.9,883.1 L1461.9,885.3 L1462.9,883.1 L1463.9,885.3 L1464.9,885.3 L1465.9,889.6 L1466.9,887.4 L1467.9,887.4 L1468.9,885.3 L1469.9,885.3 L1470.9,889.6 L1471.9,889.6 L1472.9,889.6 L1473.9,889.6 L1474.9,898.2 L1475.9,893.9 L1476.9,898.2 L1477.9,898.2 L1478.9,891.7 L1479.9,893.9 L1480.9,887.4 L1481.9,891.7 L1482.9,887.4 L1483.9,885.3 L1484.9,896.0 L1485.9,893.9 L1486.9,902.5 L1487.9,900.3 L1488.9,900.3 L1489.9,898.2 L1490.9,896.0 L1491.9,896.0 L1492.9,891.7 L1493.9,893.9 L1494.9,889.6 L1495.9,887.4 L1496.9,876.7 L1497.9,887.4 L1498.9,881.0 L1499.9,872.4 L1500.9,881.0 L1501.9,883.1 L1502.9,885.3 L1503.9,878.8 L1504.9,889.6 L1505.9,885.3 L1506.9,893.9 L1507.9,885.3 L1508.9,887.4 L1509.9,885.3 L1510.9,883.1 L1511.9,889.6 L1512.9,887.4 L1513.9,889.6 L1514.9,887.4 L1515.9,881.0 L1516.9,874.5 L1517.9,874.5 L1518.9,872.4 L1519.9,870.2 L1520.9,872.4 L1521.9,870.2 L1522.9,872.4 L1523.9,876.7 L1524.9,881.0 L1525.9,885.3 L1526.9,889.6 L1527.9,891.7 L1528.9,889.6 L1529.9,889.6 L1530.9,900.3 L1531.9,898.2 L1532.9,902.5 L1533.9,893.9 L1534.9,900.3 L1535.9,902.5 L1536.9,898.2 L1537.9,906.8 L1538.9,915.4 L1539.9,921.8 L1540.9,919.7 L1541.9,911.1 L1542.9,906.8 L1543.9,911.1 L1544.9,911.1 L1545.9,906.8 L1546.9,898.2 L1547.9,904.6 L1548.9,904.6 L1549.9,902.5 L1550.9,898.2 L1551.9,898.2 L1552.9,900.3 L1553.9,898.2 L1554.9,893.9 L1555.9,902.5 L1556.9,902.5 L1557.9,902.5 L1558.9,906.8 L1559.9,902.5 L1560.9,904.6 L1561.9,904.6 L1562.9,906.8 L1563.9,911.1 L1564.9,906.8 L1565.9,913.2 L1566.9,913.2 L1567.9,908.9 L1568.9,906.8 L1569.9,908.9 L1570.9,900.3 L1571.9,900.3 L1572.9,893.9 L1573.9,898.2 L1574.9,898.2 L1575.9,893.9 L1576.9,896.0 L1577.9,898.2 L1578.9,904.6 L1579.9,902.5 L1580.9,911.1 L1581.9,906.8 L1582.9,904.6 L1583.9,906.8 L1584.9,906.8 L1585.9,913.2 L1586.9,913.2 L1587.9,906.8 L1588.9,913.2 L1589.9,913.2 L1590.9,908.9 L1591.9,904.6 L1592.9,906.8 L1593.9,906.8 L1594.9,911.1 L1595.9,904.6 L1596.9,896.0 L1597.9,900.3 L1598.9,891.7 L1599.9,896.0 L1600.9,885.3 L1601.9,883.1 L1602.9,881.0 L1603.9,885.3 L1604.9,896.0 L1605.9,900.3 L1606.9,902.5 L1607.9,900.3 L1608.9,893.9 L1609.9,896.0 L1610.9,896.0 L1611.9,893.9 L1612.9,898.2 L1613.9,893.9 L1614.9,893.9 L1615.9,891.7 L1616.9,889.6 L1617.9,898.2 L1618.9,900.3 L1619.9,898.2 L1620.9,896.0 L1621.9,896.0 L1622.9,911.1 L1623.9,911.1 L1624.9,906.8 L1625.9,906.8 L1626.9,906.8 L1627.9,904.6 L1628.9,900.3 L1629.9,906.8 L1630.9,906.8 L1631.9,900.3 L1632.9,906.8 L1633.9,904.6 L1634.9,911.1 L1635.9,917.5 L1636.9,913.2 L1637.9,913.2 L1638.9,926.1 L1639.9,926.1 L1640.9,932.6 L1641.9,926.1 L1642.9,936.9 L1643.9,941.2 L1644.9,943.3 L1645.9,936.9 L1646.9,939.0 L1647.9,939.0 L1648.9,943.3 L1649.9,943.3 L1650.9,939.0 L1651.9,934.7 L1652.9,939.0 L1653.9,934.7 L1654.9,936.9 L1655.9,934.7 L1656.9,936.9 L1657.9,932.6 L1658.9,926.1 L1659.9,926.1 L1660.9,930.4 L1661.9,919.7 L1662.9,924.0 L1663.9,928.3 L1664.9,930.4 L1665.9,928.3 L1666.9,924.0 L1667.9,926.1 L1668.9,932.6 L1669.9,934.7 L1670.9,943.3 L1671.9,934.7 L1672.9,941.2 L1673.9,941.2 L1674.9,932.6 L1675.9,934.7 L1676.9,936.9 L1677.9,934.7 L1678.9,934.7 L1679.9,936.9 L1680.9,932.6 L1681.9,934.7 L1682.9,930.4 L1683.9,928.3 L1684.9,930.4 L1685.9,926.1 L1686.9,928.3 L1687.9,932.6 L1688.9,928.3 L1689.9,930.4 L1690.9,934.7 L1691.9,932.6 L1692.9,939.0 L1693.9,932.6 L1694.9,939.0 L1695.9,939.0 L1696.9,939.0 L1697.9,949.7 L1698.9,943.3 L1699.9,949.7 L1700.9,945.4 L1701.9,947.6 L1702.9,939.0 L1703.9,943.3 L1704.9,943.3 L1705.9,939.0 L1706.9,936.9 L1707.9,945.4 L1708.9,936.9 L1709.9,932.6 L1710.9,932.6 L1711.9,934.7 L1712.9,932.6 L1713.9,932.6 L1714.9,936.9 L1715.9,928.3 L1716.9,932.6 L1717.9,936.9 L1718.9,930.4 L1719.9,936.9 L1720.9,941.2 L1721.9,932.6 L1722.9,934.7 L1723.9,936.9 L1724.9,936.9 L1725.9,945.4 L1726.9,939.0 L1727.9,947.6 L1728.9,954.0 L1729.9,943.3 L1730.9,945.4 L1731.9,939.0 L1732.9,945.4 L1733.9,939.0 L1734.9,939.0 L1735.9,939.0 L1736.9,939.0 L1737.9,934.7 L1738.9,936.9 L1739.9,939.0 L1740.9,941.2 L1741.9,939.0 L1742.9,945.4 L1743.9,941.2 L1744.9,949.7 L1745.9,960.5 L1746.9,956.2 L1747.9,956.2 L1748.9,962.6 L1749.9,962.6 L1750.9,958.3 L1751.9,958.3 L1752.9,960.5 L1753.9,958.3 L1754.9,954.0 L1755.9,949.7 L1756.9,947.6 L1757.9,954.0 L1758.9,949.7 L1759.9,947.6 L1760.9,943.3 L1761.9,945.4 L1762.9,956.2 L1763.9,945.4 L1764.9,947.6 L1765.9,947.6 L1766.9,947.6 L1767.9,945.4 L1768.9,943.3 L1769.9,943.3 L1770.9,951.9 L1771.9,943.3 L1772.9,949.7 L1773.9,941.2 L1774.9,945.4 L1775.9,947.6 L1776.9,951.9 L1777.9,947.6 L1778.9,954.0 L1779.9,954.0 L1780.9,951.9 L1781.9,956.2 L1782.9,951.9 L1783.9,951.9 L1784.9,954.0 L1785.9,943.3 L1786.9,951.9 L1787.9,947.6 L1788.9,945.4 L1789.9,947.6 L1790.9,949.7 L1791.9,947.6 L1792.9,956.2 L1793.9,949.7 L1794.9,949.7 L1795.9,960.5 L1796.9,958.3 L1797.9,962.6 L1798.9,956.2 L1799.9,962.6 L1800.9,962.6 L1801.9,964.8 L1802.9,962.6 L1803.9,966.9 L1804.9,962.6 L1805.9,962.6 L1806.9,960.5 L1807.9,971.2 L1808.9,964.8 L1809.9,964.8 L1810.9,964.8 L1811.9,964.8 L1812.9,962.6 L1813.9,964.8 L1814.9,962.6 L1815.9,962.6 L1816.9,960.5 L1817.9,962.6 L1818.9,960.5 L1819.9,960.5 L1820.9,960.5 L1821.9,960.5 L1822.9,951.9 L1823.9,960.5 L1824.9,962.6 L1825.9,971.2 L1826.9,966.9 L1827.9,971.2 L1828.9,975.5 L1829.9,973.4 L1830.9,975.5 L1831.9,969.1 L1832.9,971.2 L1833.9,960.5 L1834.9,958.3 L1835.9,966.9 L1836.9,964.8 L1837.9,964.8 L1838.9,962.6 L1839.9,962.6 L1840.9,958.3 L1841.9,964.8 L1842.9,964.8 L1843.9,984.1 L1844.9,975.5 L1845.9,962.6 L1846.9,960.5 L1847.9,964.8 L1848.9,962.6 L1849.9,962.6 L1850.9,966.9"/>
<path stroke="#00FF00" d="M253.9,954.0 L255.0,954.0 L256.1,954.0 L257.2,954.0 L258.2,954.0 L259.3,954.0 L260.4,954.0 L261.5,954.0 L262.6,954.0 L263.7,954.0 L264.8,954.0 L265.9,954.0 L267.0,958.3 L268.1,958.3 L269.1,962.6 L270.2,966.9 L271.3,966.9 L272.4,966.9 L273.5,966.9 L274.6,971.2 L275.7,971.2 L276.8,971.2 L277.9,975.5 L279.0,975.5 L280.0,975.5 L281.1,975.5 L282.2,975.5 L283.3,979.8 L284.4,979.8 L285.5,979.8 L286.6,979.8 L287.7,979.8 L288.8,984.1 L289.9,984.1 L290.9,984.1 L292.0,988.4 L293.1,992.7 L294.2,997.0 L295.3,1005.6 L296.4,1009.9 L297.5,1009.9 L298.6,1005.6 L299.7,1005.6 L300.8,1005.6 L301.8,1001.3 L302.9,1001.3 L304.0,997.0 L305.1,997.0 L306.2,997.0 L307.3,992.7 L308.4,992.7 L309.5,988.4 L310.6,988.4 L311.7,984.1 L312.7,984.1 L313.8,984.1 L314.9,984.1 L316.0,984.1 L317.1,988.4 L318.2,988.4 L319.3,988.4 L320.4,988.4 L321.5,992.7 L322.6,992.7 L323.6,997.0 L324.7,997.0 L325.8,997.0 L326.9,1001.3 L328.0,1001.3 L329.1,1001.3 L330.2,1001.3 L331.3,997.0 L332.4,992.7 L333.5,988.4 L334.5,979.8 L335.6,975.5 L336.7,971.2 L337.8,966.9 L338.9,971.2 L340.0,971.2 L341.1,971.2 L342.2,975.5 L343.3,975.5 L344.4,979.8 L345.4,979.8 L346.5,984.1 L347.6,984.1 L348.7,988.4 L349.8,988.4 L350.9,992.7 L352.0,992.7 L353.1,997.0 L354.2,992.7 L355.3,984.1 L356.3,979.8 L357.4,971.2 L358.5,962.6 L359.6,958.3 L360.7,954.0 L361.8,954.0 L362.9,949.7 L364.0,945.4 L365.1,945.4 L366.2,949.7 L367.2,949.7 L368.3,949.7 L369.4,949.7 L370.5,954.0 L371.6,954.0 L372.7,958.3 L373.8,958.3 L374.9,962.6 L376.0,966.9 L377.1,971.2 L378.1,971.2 L379.2,975.5 L380.3,979.8 L381.4,979.8 L382.5,984.1 L383.6,988.4 L384.7,988.4 L385.8,984.1 L386.9,979.8 L388.0,979.8 L389.0,975.5 L390.1,975.5 L391.2,975.5 L392.3,975.5 L393.4,975.5 L394.5,979.8 L395.6,984.1 L396.7,988.4 L397.8,992.7 L398.9,1001.3 L399.9,1005.6 L401.0,1009.9 L402.1,1014.2 L403.2,1018.5 L404.3,1022.8 L405.4,1027.1 L406.5,1031.4 L407.6,1035.7 L408.7,1031.4 L409.8,1027.1 L410.8,1022.8 L411.9,1018.5 L413.0,1014.2 L414.1,1009.9 L415.2,1005.6 L416.3,1005.6 L417.4,1005.6 L418.5,1001.3 L419.6,1001.3 L420.7,1001.3 L421.7,1001.3 L422.8,1001.3 L423.9,1001.3 L425.0,1001.3 L426.1,1001.3 L427.2,1001.3 L428.3,1001.3 L429.4,1005.6 L430.5,1005.6 L431.6,1009.9 L432.6,1009.9 L433.7,1014.2 L434.8,1018.5 L435.9,1018.5 L437.0,1022.8 L438.1,1009.9 L439.2,1001.3 L440.3,988.4 L441.4,984.1 L442.5,979.8 L443.5,979.8 L444.6,975.5 L445.7,971.2 L446.8,975.5 L447.9,975.5 L449.0,979.8 L450.1,979.8 L451.2,984.1 L452.3,988.4 L453.4,988.4 L454.4,988.4 L455.5,992.7 L456.6,992.7 L457.7,997.0 L458.8,997.0 L459.9,1001.3 L461.0,1001.3 L462.1,1001.3 L463.2,1001.3 L464.3,1001.3 L465.3,997.0 L466.4,992.7 L467.5,988.4 L468.6,979.8 L469.7,975.5 L470.8,971.2 L471.9,966.9 L473.0,962.6 L474.1,958.3 L475.2,958.3 L476.2,958.3 L477.3,958.3 L478.4,958.3 L479.5,962.6 L480.6,962.6 L481.7,966.9 L482.8,971.2 L483.9,975.5 L485.0,975.5 L486.1,979.8 L487.1,984.1 L488.2,988.4 L489.3,988.4 L490.4,992.7 L491.5,992.7 L492.6,975.5 L493.7,962.6 L494.8,949.7 L495.9,945.4 L497.0,945.4 L498.0,945.4 L499.1,941.2 L500.2,941.2 L501.3,945.4 L502.4,949.7 L503.5,958.3 L504.6,962.6 L505.7,966.9 L506.8,971.2 L507.9,975.5 L508.9,984.1 L510.0,992.7 L511.1,997.0 L512.2,1005.6 L513.3,1009.9 L514.4,1018.5 L515.5,1022.8 L516.6,1018.5 L517.7,1009.9 L518.8,997.0 L519.8,984.1 L520.9,975.5 L522.0,966.9 L523.1,962.6 L524.2,954.0 L525.3,945.4 L526.4,936.9 L527.5,928.3 L528.6,932.6 L529.7,936.9 L530.7,945.4 L531.8,949.7 L532.9,954.0 L534.0,962.6 L535.1,966.9 L536.2,971.2 L537.3,975.5 L538.4,979.8 L539.5,984.1 L540.6,988.4 L541.6,992.7 L542.7,997.0 L543.8,1001.3 L544.9,992.7 L546.0,979.8 L547.1,962.6 L548.2,949.7 L549.3,945.4 L550.4,941.2 L551.5,936.9 L552.5,932.6 L553.6,928.3 L554.7,932.6 L555.8,936.9 L556.9,945.4 L558.0,949.7 L559.1,954.0 L560.2,962.6 L561.3,966.9 L562.4,971.2 L563.4,975.5 L564.5,979.8 L565.6,988.4 L566.7,992.7 L567.8,997.0 L568.9,1001.3 L570.0,1005.6 L571.1,1005.6 L572.2,988.4 L573.3,975.5 L574.3,962.6 L575.4,945.4 L576.5,941.2 L577.6,936.9 L578.7,936.9 L579.8,932.6 L580.9,932.6 L582.0,928.3 L583.1,928.3 L584.2,936.9 L585.2,941.2 L586.3,945.4 L587.4,949.7 L588.5,954.0 L589.6,958.3 L590.7,962.6 L591.8,962.6 L592.9,966.9 L594.0,971.2 L595.1,975.5 L596.1,979.8 L597.2,975.5 L598.3,962.6 L599.4,954.0 L600.5,945.4 L601.6,932.6 L602.7,924.0 L603.8,924.0 L604.9,919.7 L606.0,919.7 L607.0,915.4 L608.1,915.4 L609.2,911.1 L610.3,915.4 L611.4,919.7 L612.5,924.0 L613.6,928.3 L614.7,932.6 L615.8,936.9 L616.9,941.2 L617.9,949.7 L619.0,954.0 L620.1,958.3 L621.2,966.9 L622.3,971.2 L623.4,979.8 L624.5,971.2 L625.6,962.6 L626.7,949.7 L627.8,936.9 L628.8,928.3 L629.9,932.6 L631.0,936.9 L632.1,941.2 L633.2,936.9 L634.3,936.9 L635.4,932.6 L636.5,928.3 L637.6,928.3 L638.7,924.0 L639.7,928.3 L640.8,928.3 L641.9,932.6 L643.0,936.9 L644.1,936.9 L645.2,941.2 L646.3,941.2 L647.4,945.4 L648.5,949.7 L649.6,954.0 L650.6,949.7 L651.7,936.9 L652.8,924.0 L653.9,906.8 L655.0,911.1 L656.1,915.4 L657.2,915.4 L658.3,919.7 L659.4,915.4 L660.5,915.4 L661.5,915.4 L662.6,911.1 L663.7,911.1 L664.8,906.8 L665.9,906.8 L667.0,911.1 L668.1,911.1 L669.2,911.1 L670.3,915.4 L671.4,915.4 L672.4,915.4 L673.5,919.7 L674.6,919.7 L675.7,919.7 L676.8,919.7 L677.9,919.7 L679.0,919.7 L680.1,919.7 L681.2,919.7 L682.3,919.7 L683.3,915.4 L684.4,915.4 L685.5,911.1 L686.6,911.1 L687.7,906.8 L688.8,906.8 L689.9,906.8 L691.0,906.8 L692.1,911.1 L693.2,911.1 L694.2,915.4 L695.3,915.4 L696.4,915.4 L697.5,919.7 L698.6,924.0 L699.7,928.3 L700.8,928.3 L701.9,932.6 L703.0,936.9 L704.1,941.2 L705.1,936.9 L706.2,932.6 L707.3,932.6 L708.4,928.3 L709.5,924.0 L710.6,919.7 L711.7,919.7 L712.8,919.7 L713.9,915.4 L715.0,915.4 L716.0,911.1 L717.1,915.4 L718.2,919.7 L719.3,924.0 L720.4,928.3 L721.5,932.6 L722.6,936.9 L723.7,941.2 L724.8,945.4 L725.9,949.7 L726.9,954.0 L728.0,958.3 L729.1,962.6 L730.2,966.9 L731.3,966.9 L732.4,958.3 L733.5,949.7 L734.6,941.2 L735.7,932.6 L736.8,928.3 L737.8,928.3 L738.9,924.0 L740.0,924.0 L741.1,924.0 L742.2,924.0 L743.3,919.7 L744.4,919.7 L745.5,919.7 L746.6,924.0 L747.7,928.3 L748.7,928.3 L749.8,932.6 L750.9,932.6 L752.0,936.9 L753.1,936.9 L754.2,941.2 L755.3,941.2 L756.4,941.2 L757.5,932.6 L758.6,919.7 L759.6,911.1 L760.7,898.2 L761.8,889.6 L762.9,889.6 L764.0,889.6 L765.1,893.9 L766.2,885.3 L767.3,881.0 L768.4,872.4 L769.5,872.4 L770.5,876.7 L771.6,881.0 L772.7,881.0 L773.8,889.6 L774.9,898.2 L776.0,902.5 L777.1,911.1 L778.2,919.7 L779.3,928.3 L780.4,932.6 L781.4,941.2 L782.5,945.4 L783.6,949.7 L784.7,954.0 L785.8,954.0 L786.9,954.0 L788.0,954.0 L789.1,954.0 L790.2,954.0 L791.3,949.7 L792.3,949.7 L793.4,949.7 L794.5,945.4 L795.6,945.4 L796.7,941.2 L797.8,932.6 L798.9,924.0 L800.0,919.7 L801.1,924.0 L802.2,924.0 L803.2,928.3 L804.3,932.6 L805.4,932.6 L806.5,936.9 L807.6,941.2 L808.7,945.4 L809.8,945.4 L810.9,945.4 L812.0,945.4 L813.1,945.4 L814.1,945.4 L815.2,941.2 L816.3,941.2 L817.4,941.2 L818.5,941.2 L819.6,941.2 L820.7,941.2 L821.8,941.2 L822.9,941.2 L824.0,941.2 L825.0,941.2 L826.1,941.2 L827.2,945.4 L828.3,945.4 L829.4,949.7 L830.5,949.7 L831.6,954.0 L832.7,954.0 L833.8,958.3 L834.9,962.6 L835.9,966.9 L837.0,971.2 L838.1,975.5 L839.2,979.8 L840.3,971.2 L841.4,962.6 L842.5,954.0 L843.6,945.4 L844.7,936.9 L845.8,928.3 L846.8,928.3 L847.9,924.0 L849.0,924.0 L850.1,924.0 L851.2,924.0 L852.3,924.0 L853.4,924.0 L854.5,928.3 L855.6,928.3 L856.7,928.3 L857.7,932.6 L858.8,932.6 L859.9,936.9 L861.0,936.9 L862.1,941.2 L863.2,941.2 L864.3,945.4 L865.4,936.9 L866.5,928.3 L867.6,919.7 L868.6,911.1 L869.7,911.1 L870.8,915.4 L871.9,919.7 L873.0,919.7 L874.1,924.0 L875.2,919.7 L876.3,919.7 L877.4,919.7 L878.5,919.7 L879.5,919.7 L880.6,919.7 L881.7,915.4 L882.8,915.4 L883.9,919.7 L885.0,919.7 L886.1,924.0 L887.2,924.0 L888.3,924.0 L889.4,928.3 L890.4,928.3 L891.5,928.3 L892.6,932.6 L893.7,932.6 L894.8,928.3 L895.9,928.3 L897.0,924.0 L898.1,924.0 L899.2,919.7 L900.3,915.4 L901.3,915.4 L902.4,911.1 L903.5,906.8 L904.6,911.1 L905.7,911.1 L906.8,915.4 L907.9,919.7 L909.0,919.7 L910.1,924.0 L911.2,928.3 L912.2,928.3 L913.3,928.3 L914.4,932.6 L915.5,932.6 L916.6,932.6 L917.7,936.9 L918.8,936.9 L919.9,932.6 L921.0,928.3 L922.1,924.0 L923.1,924.0 L924.2,924.0 L925.3,924.0 L926.4,928.3 L927.5,924.0 L928.6,919.7 L929.7,915.4 L930.8,911.1 L931.9,911.1 L933.0,906.8 L934.0,902.5 L935.1,906.8 L936.2,906.8 L937.3,906.8 L938.4,911.1 L939.5,911.1 L940.6,915.4 L941.7,919.7 L942.8,924.0 L943.9,928.3 L944.9,932.6 L946.0,932.6 L947.1,936.9 L948.2,941.2 L949.3,945.4 L950.4,941.2 L951.5,941.2 L952.6,936.9 L953.7,936.9 L954.8,932.6 L955.8,932.6 L956.9,928.3 L958.0,928.3 L959.1,928.3 L960.2,928.3 L961.3,928.3 L962.4,932.6 L963.5,936.9 L964.6,941.2 L965.7,941.2 L966.7,945.4 L967.8,949.7 L968.9,954.0 L970.0,958.3 L971.1,962.6 L972.2,966.9 L973.3,971.2 L974.4,975.5 L975.5,971.2 L976.6,966.9 L977.6,962.6 L978.7,954.0 L979.8,949.7 L980.9,945.4 L982.0,936.9 L983.1,936.9 L984.2,932.6 L985.3,928.3 L986.4,928.3 L987.5,924.0 L988.5,924.0 L989.6,919.7 L990.7,924.0 L991.8,928.3 L992.9,932.6 L994.0,936.9 L995.1,941.2 L996.2,945.4 L997.3,954.0 L998.4,958.3 L999.4,962.6 L1000.5,971.2 L1001.6,975.5 L1002.7,984.1 L1003.8,984.1 L1004.9,988.4 L1006.0,988.4 L1007.1,988.4 L1008.2,988.4 L1009.3,988.4 L1010.3,984.1 L1011.4,984.1 L1012.5,979.8 L1013.6,975.5 L1014.7,975.5 L1015.8,971.2 L1016.9,966.9 L1018.0,971.2 L1019.1,971.2 L1020.2,975.5 L1021.2,979.8 L1022.3,979.8 L1023.4,984.1 L1024.5,988.4 L1025.6,992.7 L1026.7,997.0 L1027.8,1001.3 L1028.9,1005.6 L1030.0,1009.9 L1031.1,1014.2 L1032.1,1014.2 L1033.2,1018.5 L1034.3,1009.9 L1035.4,1001.3 L1036.5,992.7 L1037.6,984.1 L1038.7,979.8 L1039.8,971.2 L1040.9,962.6 L1042.0,954.0 L1043.0,949.7 L1044.1,949.7 L1045.2,954.0 L1046.3,954.0 L1047.4,954.0 L1048.5,954.0 L1049.6,954.0 L1050.7,958.3 L1051.8,958.3 L1052.9,962.6 L1053.9,962.6 L1055.0,966.9 L1056.1,966.9 L1057.2,966.9 L1058.3,966.9 L1059.4,966.9 L1060.5,966.9 L1061.6,971.2 L1062.7,966.9 L1063.8,954.0 L1064.8,945.4 L1065.9,936.9 L1067.0,924.0 L1068.1,919.7 L1069.2,919.7 L1070.3,919.7 L1071.4,919.7 L1072.5,919.7 L1073.6,919.7 L1074.7,919.7 L1075.7,919.7 L1076.8,919.7 L1077.9,919.7 L1079.0,919.7 L1080.1,924.0 L1081.2,924.0 L1082.3,924.0 L1083.4,928.3 L1084.5,928.3 L1085.6,928.3 L1086.6,932.6 L1087.7,932.6 L1088.8,928.3 L1089.9,924.0 L1091.0,919.7 L1092.1,911.1 L1093.2,906.8 L1094.3,902.5 L1095.4,898.2 L1096.5,893.9 L1097.5,893.9 L1098.6,889.6 L1099.7,885.3 L1100.8,885.3 L1101.9,881.0 L1103.0,885.3 L1104.1,889.6 L1105.2,893.9 L1106.3,898.2 L1107.4,898.2 L1108.4,902.5 L1109.5,911.1 L1110.6,915.4 L1111.7,924.0 L1112.8,928.3 L1113.9,932.6 L1115.0,941.2 L1116.1,941.2 L1117.2,941.2 L1118.3,936.9 L1119.3,932.6 L1120.4,928.3 L1121.5,924.0 L1122.6,924.0 L1123.7,919.7 L1124.8,919.7 L1125.9,915.4 L1127.0,915.4 L1128.1,919.7 L1129.2,924.0 L1130.2,928.3 L1131.3,932.6 L1132.4,936.9 L1133.5,941.2 L1134.6,941.2 L1135.7,945.4 L1136.8,954.0 L1137.9,958.3 L1139.0,962.6 L1140.1,971.2 L1141.1,975.5 L1142.2,979.8 L1143.3,979.8 L1144.4,975.5 L1145.5,971.2 L1146.6,966.9 L1147.7,962.6 L1148.8,954.0 L1149.9,958.3 L1151.0,958.3 L1152.0,962.6 L1153.1,962.6 L1154.2,962.6 L1155.3,958.3 L1156.4,958.3 L1157.5,958.3 L1158.6,958.3 L1159.7,958.3 L1160.8,958.3 L1161.9,958.3 L1162.9,958.3 L1164.0,958.3 L1165.1,962.6 L1166.2,962.6 L1167.3,966.9 L1168.4,971.2 L1169.5,975.5 L1170.6,971.2 L1171.7,962.6 L1172.8,954.0 L1173.8,945.4 L1174.9,936.9 L1176.0,928.3 L1177.1,919.7 L1178.2,919.7 L1179.3,919.7 L1180.4,924.0 L1181.5,924.0 L1182.6,928.3 L1183.7,928.3 L1184.7,932.6 L1185.8,932.6 L1186.9,936.9 L1188.0,936.9 L1189.1,941.2 L1190.2,941.2 L1191.3,941.2 L1192.4,945.4 L1193.5,945.4 L1194.6,945.4 L1195.6,949.7 L1196.7,949.7 L1197.8,949.7 L1198.9,949.7 L1200.0,945.4 L1201.1,945.4 L1202.2,945.4 L1203.3,945.4 L1204.4,945.4 L1205.5,941.2 L1206.5,941.2 L1207.6,941.2 L1208.7,941.2 L1209.8,945.4 L1210.9,945.4 L1212.0,949.7 L1213.1,954.0 L1214.2,954.0 L1215.3,958.3 L1216.4,962.6 L1217.4,966.9 L1218.5,971.2 L1219.6,975.5 L1220.7,979.8 L1221.8,984.1 L1222.9,988.4 L1224.0,992.7 L1225.1,988.4 L1226.2,984.1 L1227.3,979.8 L1228.3,975.5 L1229.4,971.2 L1230.5,966.9 L1231.6,962.6 L1232.7,958.3 L1233.8,958.3 L1234.9,958.3 L1236.0,962.6 L1237.1,962.6 L1238.2,962.6 L1239.2,966.9 L1240.3,971.2 L1241.4,975.5 L1242.5,979.8 L1243.6,984.1 L1244.7,988.4 L1245.8,992.7 L1246.9,997.0 L1248.0,1001.3 L1249.1,1005.6 L1250.1,1009.9 L1251.2,1001.3 L1252.3,992.7 L1253.4,979.8 L1254.5,971.2 L1255.6,962.6 L1256.7,958.3 L1257.8,958.3 L1258.9,958.3 L1260.0,958.3 L1261.0,958.3 L1262.1,958.3 L1263.2,958.3 L1264.3,954.0 L1265.4,954.0 L1266.5,954.0 L1267.6,954.0 L1268.7,949.7 L1269.8,949.7 L1270.9,949.7 L1271.9,949.7 L1273.0,954.0 L1274.1,954.0 L1275.2,954.0 L1276.3,954.0 L1277.4,954.0 L1278.5,936.9 L1279.6,919.7 L1280.7,906.8 L1281.8,902.5 L1282.8,906.8 L1283.9,906.8 L1285.0,911.1 L1286.1,906.8 L1287.2,906.8 L1288.3,902.5 L1289.4,906.8 L1290.5,911.1 L1291.6,911.1 L1292.7,915.4 L1293.7,919.7 L1294.8,924.0 L1295.9,928.3 L1297.0,928.3 L1298.1,932.6 L1299.2,936.9 L1300.3,941.2 L1301.4,945.4 L1302.5,949.7 L1303.6,954.0 L1304.6,949.7 L1305.7,949.7 L1306.8,945.4 L1307.9,941.2 L1309.0,936.9 L1310.1,936.9 L1311.2,932.6 L1312.3,932.6 L1313.4,928.3 L1314.5,928.3 L1315.5,928.3 L1316.6,924.0 L1317.7,928.3 L1318.8,928.3 L1319.9,928.3 L1321.0,932.6 L1322.1,936.9 L1323.2,941.2 L1324.3,941.2 L1325.4,945.4 L1326.4,954.0 L1327.5,958.3 L1328.6,962.6 L1329.7,966.9 L1330.8,966.9 L1331.9,962.6 L1333.0,954.0 L1334.1,949.7 L1335.2,949.7 L1336.3,949.7 L1337.3,945.4 L1338.4,945.4 L1339.5,941.2 L1340.6,936.9 L1341.7,936.9 L1342.8,932.6 L1343.9,936.9 L1345.0,936.9 L1346.1,941.2 L1347.2,945.4 L1348.2,945.4 L1349.3,949.7 L1350.4,954.0 L1351.5,958.3 L1352.6,962.6 L1353.7,966.9 L1354.8,971.2 L1355.9,975.5 L1357.0,984.1 L1358.1,984.1 L1359.1,971.2 L1360.2,958.3 L1361.3,941.2 L1362.4,932.6 L1363.5,928.3 L1364.6,924.0 L1365.7,919.7 L1366.8,919.7 L1367.9,919.7 L1369.0,919.7 L1370.0,919.7 L1371.1,919.7 L1372.2,919.7 L1373.3,919.7 L1374.4,919.7 L1375.5,919.7 L1376.6,924.0 L1377.7,924.0 L1378.8,924.0 L1379.9,928.3 L1380.9,928.3 L1382.0,928.3 L1383.1,932.6 L1384.2,924.0 L1385.3,911.1 L1386.4,898.2 L1387.5,893.9 L1388.6,898.2 L1389.7,902.5 L1390.8,906.8 L1391.8,902.5 L1392.9,902.5 L1394.0,902.5 L1395.1,898.2 L1396.2,898.2 L1397.3,902.5 L1398.4,902.5 L1399.5,902.5 L1400.6,902.5 L1401.7,902.5 L1402.7,906.8 L1403.8,906.8 L1404.9,906.8 L1406.0,906.8 L1407.1,906.8 L1408.2,911.1 L1409.3,911.1 L1410.4,911.1 L1411.5,911.1 L1412.6,911.1 L1413.6,911.1 L1414.7,911.1 L1415.8,911.1 L1416.9,911.1 L1418.0,911.1 L1419.1,906.8 L1420.2,906.8 L1421.3,906.8 L1422.4,906.8 L1423.5,911.1 L1424.5,915.4 L1425.6,919.7 L1426.7,924.0 L1427.8,932.6 L1428.9,936.9 L1430.0,941.2 L1431.1,945.4 L1432.2,949.7 L1433.3,954.0 L1434.4,958.3 L1435.4,962.6 L1436.5,966.9 L1437.6,962.6 L1438.7,958.3 L1439.8,954.0 L1440.9,949.7 L1442.0,945.4 L1443.1,941.2 L1444.2,941.2 L1445.3,941.2 L1446.3,941.2 L1447.4,936.9 L1448.5,936.9 L1449.6,941.2 L1450.7,945.4 L1451.8,945.4 L1452.9,949.7 L1454.0,954.0 L1455.1,958.3 L1456.2,962.6 L1457.2,962.6 L1458.3,966.9 L1459.4,971.2 L1460.5,975.5 L1461.6,979.8 L1462.7,984.1 L1463.8,984.1 L1464.9,975.5 L1466.0,966.9 L1467.1,958.3 L1468.1,954.0 L1469.2,954.0 L1470.3,949.7 L1471.4,949.7 L1472.5,949.7 L1473.6,949.7 L1474.7,949.7 L1475.8,945.4 L1476.9,945.4 L1478.0,941.2 L1479.0,941.2 L1480.1,936.9 L1481.2,936.9 L1482.3,936.9 L1483.4,941.2 L1484.5,941.2 L1485.6,941.2 L1486.7,941.2 L1487.8,941.2 L1488.9,941.2 L1489.9,945.4 L1491.0,936.9 L1492.1,924.0 L1493.2,915.4 L1494.3,902.5 L1495.4,906.8 L1496.5,906.8 L1497.6,911.1 L1498.7,911.1 L1499.8,911.1 L1500.8,911.1 L1501.9,911.1 L1503.0,911.1 L1504.1,906.8 L1505.2,906.8 L1506.3,906.8 L1507.4,911.1 L1508.5,911.1 L1509.6,915.4 L1510.7,915.4 L1511.7,915.4 L1512.8,919.7 L1513.9,919.7 L1515.0,919.7 L1516.1,919.7 L1517.2,924.0 L1518.3,924.0 L1519.4,924.0 L1520.5,928.3 L1521.6,924.0 L1522.6,924.0 L1523.7,924.0 L1524.8,919.7 L1525.9,919.7 L1527.0,919.7 L1528.1,919.7 L1529.2,924.0 L1530.3,928.3 L1531.4,932.6 L1532.5,936.9 L1533.5,941.2 L1534.6,945.4 L1535.7,949.7 L1536.8,954.0 L1537.9,958.3 L1539.0,962.6 L1540.1,966.9 L1541.2,966.9 L1542.3,971.2 L1543.4,975.5 L1544.4,971.2 L1545.5,966.9 L1546.6,962.6 L1547.7,958.3 L1548.8,954.0 L1549.9,954.0 L1551.0,954.0 L1552.1,954.0 L1553.2,954.0 L1554.3,954.0 L1555.3,954.0 L1556.4,954.0 L1557.5,958.3 L1558.6,958.3 L1559.7,962.6 L1560.8,962.6 L1561.9,966.9 L1563.0,971.2 L1564.1,975.5 L1565.2,975.5 L1566.2,979.8 L1567.3,984.1 L1568.4,988.4 L1569.5,992.7 L1570.6,992.7 L1571.7,992.7 L1572.8,984.1 L1573.9,979.8 L1575.0,971.2 L1576.1,962.6 L1577.1,962.6 L1578.2,958.3 L1579.3,958.3 L1580.4,954.0 L1581.5,954.0 L1582.6,954.0 L1583.7,954.0 L1584.8,954.0 L1585.9,954.0 L1587.0,954.0 L1588.0,954.0 L1589.1,954.0 L1590.2,954.0 L1591.3,954.0 L1592.4,958.3 L1593.5,958.3 L1594.6,962.6 L1595.7,962.6 L1596.8,954.0 L1597.9,945.4 L1598.9,936.9 L1600.0,928.3 L1601.1,928.3 L1602.2,924.0 L1603.3,924.0 L1604.4,919.7 L1605.5,919.7 L1606.6,924.0 L1607.7,924.0 L1608.8,928.3 L1609.8,928.3 L1610.9,928.3 L1612.0,924.0 L1613.1,924.0 L1614.2,924.0 L1615.3,928.3 L1616.4,928.3 L1617.5,928.3 L1618.6,928.3 L1619.7,928.3 L1620.7,932.6 L1621.8,932.6 L1622.9,932.6 L1624.0,932.6 L1625.1,936.9 L1626.2,936.9 L1627.3,936.9 L1628.4,936.9 L1629.5,936.9 L1630.6,932.6 L1631.6,932.6 L1632.7,932.6 L1633.8,936.9 L1634.9,941.2 L1636.0,945.4 L1637.1,949.7 L1638.2,954.0 L1639.3,954.0 L1640.4,958.3 L1641.5,962.6 L1642.5,966.9 L1643.6,971.2 L1644.7,975.5 L1645.8,979.8 L1646.9,984.1 L1648.0,988.4 L1649.1,992.7 L1650.2,992.7 L1651.3,992.7 L1652.4,988.4 L1653.4,988.4 L1654.5,984.1 L1655.6,984.1 L1656.7,984.1 L1657.8,984.1 L1658.9,984.1 L1660.0,984.1 L1661.1,979.8 L1662.2,979.8 L1663.3,975.5 L1664.3,979.8 L1665.4,979.8 L1666.5,984.1 L1667.6,988.4 L1668.7,988.4 L1669.8,992.7 L1670.9,992.7 L1672.0,997.0 L1673.1,997.0 L1674.2,1001.3 L1675.2,1005.6 L1676.3,1009.9 L1677.4,1014.2 L1678.5,1014.2 L1679.6,1014.2 L1680.7,1009.9 L1681.8,1005.6 L1682.9,997.0 L1684.0,992.7 L1685.1,988.4 L1686.1,992.7 L1687.2,997.0 L1688.3,992.7 L1689.4,988.4 L1690.5,984.1 L1691.6,984.1 L1692.7,984.1 L1693.8,988.4 L1694.9,988.4 L1696.0,992.7 L1697.0,997.0 L1698.1,1001.3 L1699.2,1001.3 L1700.3,1005.6 L1701.4,1009.9 L1702.5,1014.2 L1703.6,1014.2 L1704.7,1014.2 L1705.8,1005.6 L1706.9,997.0 L1707.9,988.4 L1709.0,979.8 L1710.1,979.8 L1711.2,975.5 L1712.3,971.2 L1713.4,971.2 L1714.5,966.9 L1715.6,966.9 L1716.7,971.2 L1717.8,971.2 L1718.8,971.2 L1719.9,975.5 L1721.0,975.5 L1722.1,979.8 L1723.2,979.8 L1724.3,984.1 L1725.4,988.4 L1726.5,988.4 L1727.6,992.7 L1728.7,997.0 L1729.7,1001.3 L1730.8,1005.6 L1731.9,1009.9 L1733.0,1009.9 L1734.1,1014.2 L1735.2,1018.5 L1736.3,1018.5 L1737.4,1018.5 L1738.5,1018.5 L1739.6,1018.5 L1740.6,1018.5 L1741.7,1018.5 L1742.8,1018.5 L1743.9,1018.5 L1745.0,1022.8 L1746.1,1022.8 L1747.2,1027.1 L1748.3,1027.1 L1749.4,1031.4 L1750.5,1035.7 L1751.5,1035.7 L1752.6,1035.7 L1753.7,1040.0 L1754.8,1040.0 L1755.9,1040.0 L1757.0,1044.3 L1758.1,1044.3 L1759.2,1040.0 L1760.3,1035.7 L1761.4,1027.1 L1762.4,1022.8 L1763.5,1014.2 L1764.6,1009.9 L1765.7,1005.6 L1766.8,1001.3 L1767.9,1001.3 L1769.0,997.0 L1770.1,992.7 L1771.2,992.7 L1772.3,992.7 L1773.3,992.7 L1774.4,997.0 L1775.5,997.0 L1776.6,997.0 L1777.7,997.0 L1778.8,1001.3 L1779.9,1001.3 L1781.0,1005.6 L1782.1,1009.9 L1783.2,1014.2 L1784.2,1018.5 L1785.3,1022.8 L1786.4,1022.8 L1787.5,1027.1 L1788.6,1031.4 L1789.7,1031.4 L1790.8,1035.7 L1791.9,1040.0 L1793.0,1040.0 L1794.1,1040.0 L1795.1,1040.0 L1796.2,1040.0 L1797.3,1035.7 L1798.4,1035.7 L1799.5,1031.4 L1800.6,1031.4 L1801.7,1031.4 L1802.8,1031.4 L1803.9,1031.4 L1805.0,1031.4 L1806.0,1035.7 L1807.1,1035.7 L1808.2,1040.0 L1809.3,1040.0 L1810.4,1044.3 L1811.5,1044.3 L1812.6,1048.6 L1813.7,1048.6 L1814.8,1048.6 L1815.9,1052.9 L1816.9,1048.6 L1818.0,1040.0 L1819.1,1035.7 L1820.2,1031.4 L1821.3,1022.8 L1822.4,1018.5 L1823.5,1014.2 L1824.6,1009.9 L1825.7,1005.6 L1826.8,1001.3 L1827.8,997.0 L1828.9,997.0 L1830.0,1001.3 L1831.1,1001.3 L1832.2,1005.6 L1833.3,1009.9 L1834.4,1009.9 L1835.5,1014.2 L1836.6,1018.5 L1837.7,1018.5 L1838.7,1022.8 L1839.8,1027.1 L1840.9,1031.4 L1842.0,1035.7 L1843.1,1035.7 L1844.2,1040.0 L1845.3,1044.3 L1846.4,1044.3 L1847.5,1044.3 L1848.6,1040.0 L1849.6,1031.4 L1850.7,1027.1 L1851.4,1022.6"/>
</g>
<g font-size="56px" text-anchor="end" filter="url(#crisp)">
<text x="210.6" y="223.4" textLength="70" lengthAdjust="spacingAndGlyphs">4.5</text>
<text x="210.6" y="438.2" textLength="70" lengthAdjust="spacingAndGlyphs">4.0</text>
<text x="210.6" y="653.1" textLength="70" lengthAdjust="spacingAndGlyphs">3.5</text>
<text x="210.6" y="867.9" textLength="70" lengthAdjust="spacingAndGlyphs">3.0</text>
<text x="210.6" y="1082.7" textLength="70" lengthAdjust="spacingAndGlyphs">2.5</text>
<text x="210.6" y="1297.6" textLength="70" lengthAdjust="spacingAndGlyphs">2.0</text>
<text x="210.6" y="1512.4" textLength="70" lengthAdjust="spacingAndGlyphs">1.5</text>
</g>
<g font-size="56px" text-anchor="middle" filter="url(#crisp)">
<text x="252.0" y="1581.3" textLength="226" lengthAdjust="spacingAndGlyphs">2021/10/1</text>
<text x="618.6" y="1581.3" textLength="226" lengthAdjust="spacingAndGlyphs">2021/10/8</text>
<text x="985.2" y="1581.3" textLength="255" lengthAdjust="spacingAndGlyphs">2021/10/15</text>
<text x="1351.9" y="1581.3" textLength="255" lengthAdjust="spacingAndGlyphs">2021/10/22</text>
<text x="1718.5" y="1581.3" textLength="255" lengthAdjust="spacingAndGlyphs">2021/10/29</text>
</g>
<g filter="url(#crisp)">
<text x="1051.5" y="1712.9" font-size="70.5px" text-anchor="middle" textLength="152.5" lengthAdjust="spacingAndGlyphs">Time</text>
<g transform="translate(61.2,1063.5) rotate(-90)" font-size="69.5px">
<text y="0"><tspan x="1.5" textLength="179.0" lengthAdjust="spacingAndGlyphs">Water</tspan> <tspan x="196.2" textLength="266.3" lengthAdjust="spacingAndGlyphs">Level(m)</tspan></text>
</g>
</g>
<rect x="804" y="16" width="1359.3" height="306" fill="#fff" stroke="#000" stroke-width="2"/>
<g stroke-width="2" fill="none">
<line x1="813" y1="69" x2="994" y2="69" stroke="#1A33FF"/>
<line x1="813" y1="169" x2="994" y2="169" stroke="#F0A064"/>
<line x1="813" y1="268" x2="994" y2="268" stroke="#00FF00"/>
</g>
<g font-size="71px" filter="url(#crisp)">
<text y="95.4"><tspan x="1008.0" textLength="84.0" lengthAdjust="spacingAndGlyphs">Mi</tspan> <tspan x="1105.5" textLength="97.5" lengthAdjust="spacingAndGlyphs">Shi</tspan> <tspan x="1218.5" textLength="92.5" lengthAdjust="spacingAndGlyphs">Du</tspan> <tspan x="1332.0" textLength="178.5" lengthAdjust="spacingAndGlyphs">Water</tspan> <tspan x="1526.5" textLength="162.0" lengthAdjust="spacingAndGlyphs">Level</tspan> <tspan x="1702.5" textLength="211.5" lengthAdjust="spacingAndGlyphs">Station</tspan></text>
<text y="194.4"><tspan x="1007.0" textLength="157.0" lengthAdjust="spacingAndGlyphs">Zhao</tspan> <tspan x="1180.0" textLength="121.0" lengthAdjust="spacingAndGlyphs">Tun</tspan> <tspan x="1320.0" textLength="178.0" lengthAdjust="spacingAndGlyphs">Water</tspan> <tspan x="1515.0" textLength="162.0" lengthAdjust="spacingAndGlyphs">Level</tspan> <tspan x="1691.0" textLength="210.5" lengthAdjust="spacingAndGlyphs">Station</tspan></text>
<text y="293.4"><tspan x="1008.0" textLength="231.0" lengthAdjust="spacingAndGlyphs">Qingpu</tspan> <tspan x="1252.0" textLength="302.0" lengthAdjust="spacingAndGlyphs">Southgate</tspan> <tspan x="1572.0" textLength="179.0" lengthAdjust="spacingAndGlyphs">Water</tspan> <tspan x="1768.5" textLength="161.5" lengthAdjust="spacingAndGlyphs">Level</tspan> <tspan x="1944.0" textLength="210.5" lengthAdjust="spacingAndGlyphs">Station</tspan></text>
</g>
</svg></body></html>
